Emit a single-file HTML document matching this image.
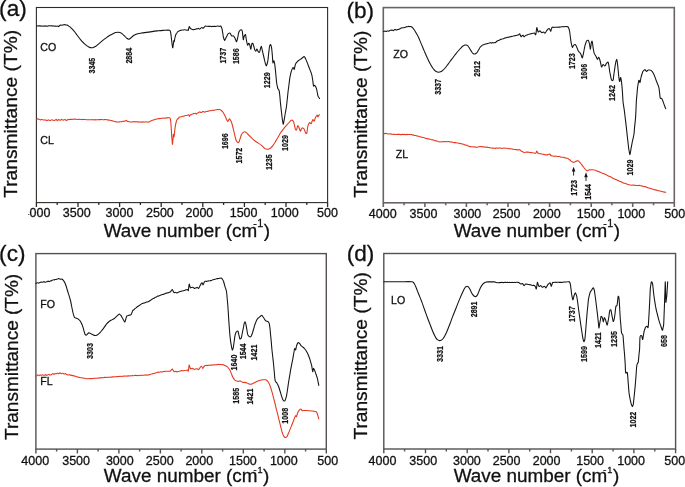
<!DOCTYPE html>
<html lang="en">
<head>
<meta charset="utf-8">
<title>FTIR spectra</title>
<style>
html,body{margin:0;padding:0;background:#fff;}
body{width:685px;height:487px;overflow:hidden;}
svg{display:block;}
text{font-family:"Liberation Sans",Arial,Helvetica,sans-serif;fill:#111;stroke:#111;stroke-width:0.3px;}
.tag{font-size:22.6px;}
.ax{font-size:18.9px;}
.ay{font-size:19.1px;}
.sup{font-size:10.8px;}
.sup2{font-size:9.2px;}
.tk{font-size:12.5px;text-anchor:middle;}
.nm{font-size:10.6px;}
.pk{font-size:8.8px;font-weight:bold;stroke:#111;stroke-width:0.22px;}
.cv{fill:none;stroke-width:1.08;stroke-linejoin:round;stroke-linecap:round;}
</style>
</head>
<body>
<svg width="685" height="487" viewBox="0 0 685 487">
<rect x="0" y="0" width="685" height="487" fill="#ffffff"/>
<defs><filter id="gs" x="0" y="0" width="685" height="487" filterUnits="userSpaceOnUse" color-interpolation-filters="sRGB"><feGaussianBlur stdDeviation="0.32"/><feColorMatrix type="saturate" values="0"/></filter></defs>
<g>
<rect x="36.4" y="7.5" width="291.2" height="195.1" fill="none" stroke="#2e2a28" stroke-width="1.1"/>
<path d="M36.4 202.6v4.3M57.2 202.6v2.4M78.0 202.6v4.3M98.8 202.6v2.4M119.6 202.6v4.3M140.4 202.6v2.4M161.2 202.6v4.3M182.0 202.6v2.4M202.8 202.6v4.3M223.6 202.6v2.4M244.4 202.6v4.3M265.2 202.6v2.4M286.0 202.6v4.3M306.8 202.6v2.4M327.6 202.6v4.3" stroke="#2e2a28" stroke-width="1.3" fill="none"/>
</g>
<g>
<rect x="383.3" y="7.6" width="291.0" height="195.2" fill="none" stroke="#696463" stroke-width="1.6"/>
<path d="M383.3 202.8v4.3M404.1 202.8v2.4M424.9 202.8v4.3M445.7 202.8v2.4M466.4 202.8v4.3M487.2 202.8v2.4M508.0 202.8v4.3M528.8 202.8v2.4M549.6 202.8v4.3M570.4 202.8v2.4M591.2 202.8v4.3M611.9 202.8v2.4M632.7 202.8v4.3M653.5 202.8v2.4M674.3 202.8v4.3" stroke="#696463" stroke-width="1.6" fill="none"/>
</g>
<g>
<rect x="35.9" y="253.6" width="290.4" height="195.5" fill="none" stroke="#565150" stroke-width="1.4"/>
<path d="M35.9 449.1v4.3M56.6 449.1v2.4M77.4 449.1v4.3M98.1 449.1v2.4M118.9 449.1v4.3M139.6 449.1v2.4M160.4 449.1v4.3M181.1 449.1v2.4M201.8 449.1v4.3M222.6 449.1v2.4M243.3 449.1v4.3M264.1 449.1v2.4M284.8 449.1v4.3M305.6 449.1v2.4M326.3 449.1v4.3" stroke="#565150" stroke-width="1.4" fill="none"/>
</g>
<g>
<rect x="383.8" y="253.5" width="291.8" height="195.5" fill="none" stroke="#565150" stroke-width="1.4"/>
<path d="M383.8 449.0v4.3M404.6 449.0v2.4M425.5 449.0v4.3M446.3 449.0v2.4M467.2 449.0v4.3M488.0 449.0v2.4M508.9 449.0v4.3M529.7 449.0v2.4M550.5 449.0v4.3M571.4 449.0v2.4M592.2 449.0v4.3M613.1 449.0v2.4M633.9 449.0v4.3M654.8 449.0v2.4M675.6 449.0v4.3" stroke="#565150" stroke-width="1.4" fill="none"/>
</g>
<path class="cv" stroke="#141414" d="M36.8 25.8C37.0 25.8 37.4 25.9 37.7 26.0C38.0 26.0 38.2 25.9 38.5 25.9C38.8 25.9 39.1 25.9 39.4 25.9C39.7 25.9 40.0 25.8 40.3 25.8C40.6 25.9 40.8 26.1 41.1 26.1C41.4 26.2 41.7 26.0 42.0 26.0C42.3 26.0 42.5 26.2 42.8 26.2C43.1 26.2 43.3 26.1 43.6 26.1C43.9 26.0 44.1 26.1 44.4 26.1C44.7 26.1 44.9 26.2 45.2 26.1C45.5 26.1 45.7 25.9 46.0 25.9C46.3 25.9 46.5 26.2 46.8 26.2C47.1 26.3 47.3 26.3 47.6 26.2C47.9 26.1 48.2 25.8 48.5 25.7C48.8 25.6 49.0 25.8 49.2 25.8C49.5 25.8 49.7 25.7 50.0 25.7C50.3 25.8 50.5 26.0 50.8 26.0C51.0 26.1 51.2 25.8 51.5 25.8C51.8 25.8 52.0 25.9 52.2 25.9C52.5 25.9 52.7 26.0 53.0 26.0C53.3 26.0 53.5 25.8 53.8 25.9C54.1 25.9 54.4 26.2 54.7 26.3C55.0 26.3 55.2 26.1 55.5 26.1C55.8 26.1 56.0 26.2 56.3 26.2C56.6 26.2 56.9 26.2 57.2 26.2C57.5 26.2 57.7 25.9 58.0 26.0C58.3 26.1 58.5 26.7 58.8 26.6C59.1 26.5 59.3 25.9 59.6 25.6C59.9 25.3 60.1 25.2 60.4 25.1C60.7 25.1 60.9 25.3 61.2 25.3C61.5 25.2 61.7 25.0 62.0 25.0C62.3 25.0 62.6 25.1 63.0 25.1C63.4 25.0 63.7 24.8 64.0 24.7C64.3 24.6 64.5 24.6 64.8 24.6C65.1 24.7 65.4 25.0 65.7 25.0C66.0 25.1 66.2 25.0 66.5 25.0C66.8 25.0 67.1 25.1 67.5 25.2C67.8 25.3 67.8 25.3 68.4 25.8C69.0 26.3 70.0 26.9 71.0 27.8C72.0 28.7 72.9 29.6 73.9 30.9C75.0 32.2 75.8 33.5 77.0 35.0C78.2 36.5 79.4 38.3 80.5 39.7C81.6 41.1 82.5 41.9 83.5 42.8C84.5 43.7 85.1 44.4 86.0 45.1C86.9 45.8 87.8 46.4 88.8 46.9C89.8 47.4 90.6 47.7 91.5 47.8C92.4 47.9 92.9 47.6 93.7 47.3C94.5 47.0 95.0 46.8 95.9 46.2C96.8 45.6 97.8 44.6 99.0 43.6C100.2 42.6 101.3 41.7 102.5 40.7C103.7 39.7 104.6 39.0 105.8 38.1C107.0 37.2 107.9 36.4 109.1 35.7C110.3 35.0 111.3 34.4 112.5 33.9C113.7 33.4 114.7 32.9 115.7 32.6C116.7 32.3 117.2 32.2 118.0 32.2C118.8 32.2 119.3 32.2 120.0 32.4C120.7 32.6 121.2 33.0 122.0 33.6C122.8 34.2 123.6 35.1 124.4 35.9C125.2 36.7 126.0 37.7 126.8 38.3C127.6 38.9 128.2 39.2 128.8 39.2C129.4 39.2 129.7 38.8 130.3 38.4C130.9 38.0 131.4 37.4 132.1 36.8C132.8 36.2 133.5 35.5 134.5 35.0C135.5 34.5 136.3 34.1 137.6 33.7C138.9 33.3 140.5 33.1 142.0 32.9C143.5 32.7 144.7 32.6 146.4 32.4C148.2 32.2 150.1 31.9 152.0 31.6C153.9 31.3 155.5 31.1 157.4 30.9C159.3 30.7 160.9 30.5 163.0 30.4C165.1 30.3 168.2 30.0 169.5 30.2C170.4 30.4 170.1 30.7 170.4 31.5C170.7 32.3 170.8 33.4 171.0 35.0C171.2 36.6 171.5 38.9 171.7 40.7C171.9 42.5 172.1 44.3 172.3 45.5C172.5 46.7 172.6 48.0 172.8 47.8C173.0 47.6 173.1 45.7 173.3 44.5C173.5 43.3 173.6 41.2 173.8 40.7C174.0 40.2 174.1 42.1 174.3 41.5C174.5 40.9 174.7 38.8 175.0 37.5C175.3 36.2 175.7 34.9 176.0 34.2C176.3 33.5 176.5 33.7 176.8 33.3C177.0 32.9 177.2 32.4 177.5 32.0C177.8 31.6 178.0 31.5 178.3 31.3C178.6 31.1 178.9 31.0 179.2 30.9C179.5 30.7 179.7 30.5 180.0 30.4C180.3 30.3 180.6 30.4 180.9 30.3C181.2 30.3 181.5 30.1 181.8 30.1C182.1 30.0 182.3 30.0 182.6 30.0C182.9 30.0 183.2 30.0 183.5 30.0C183.8 29.9 184.1 29.8 184.4 29.8C184.7 29.8 184.9 29.6 185.2 29.7C185.5 29.7 185.7 29.9 186.0 30.0C186.2 30.1 186.5 30.3 186.7 30.3C187.0 30.3 187.2 30.0 187.5 30.0C187.8 30.0 188.0 30.8 188.3 30.2C188.6 29.6 188.8 27.0 189.2 26.7C189.6 26.4 190.1 28.3 190.5 28.7C190.9 29.1 191.0 28.8 191.3 28.9C191.6 29.0 191.9 29.3 192.2 29.4C192.5 29.6 192.7 29.6 193.0 29.6C193.3 29.6 193.5 29.7 193.8 29.7C194.1 29.7 194.3 29.5 194.6 29.5C194.9 29.4 195.1 29.4 195.4 29.3C195.7 29.2 195.9 28.9 196.2 28.9C196.4 28.8 196.7 28.9 196.9 28.8C197.2 28.8 197.5 28.9 197.7 28.8C198.0 28.7 198.2 28.3 198.5 28.4C198.8 28.5 199.0 29.0 199.3 29.1C199.6 29.2 199.9 28.9 200.2 28.7C200.5 28.5 200.8 28.1 201.1 27.9C201.4 27.7 201.7 27.5 202.0 27.6C202.3 27.7 202.7 28.3 203.0 28.3C203.3 28.3 203.5 27.7 203.8 27.5C204.0 27.3 204.3 27.3 204.5 27.0C204.8 26.7 205.0 26.1 205.3 26.0C205.6 25.9 205.9 26.3 206.2 26.3C206.5 26.3 206.8 26.2 207.2 26.2C207.5 26.2 207.8 26.2 208.1 26.2C208.4 26.3 208.7 26.4 209.0 26.4C209.3 26.4 209.5 26.4 209.8 26.4C210.1 26.4 210.3 26.2 210.6 26.2C210.8 26.3 211.1 26.6 211.3 26.7C211.6 26.7 211.8 26.4 212.1 26.4C212.4 26.3 212.6 26.5 212.9 26.5C213.2 26.5 213.4 26.4 213.7 26.4C214.0 26.3 214.3 26.4 214.5 26.4C214.8 26.4 215.1 26.4 215.4 26.4C215.6 26.3 215.9 26.3 216.2 26.3C216.5 26.2 216.7 26.2 217.0 26.2C217.3 26.2 217.6 26.0 217.9 26.0C218.2 26.1 218.5 26.3 218.8 26.3C219.1 26.4 219.4 26.3 219.7 26.3C220.0 26.2 220.3 25.8 220.6 26.0C220.9 26.2 221.2 26.5 221.5 27.2C221.8 27.9 222.0 28.6 222.2 29.8C222.4 31.0 222.7 32.7 222.9 34.0C223.1 35.3 223.2 36.4 223.5 37.5C223.8 38.6 224.3 40.0 224.6 40.3C224.9 40.6 225.0 39.8 225.3 39.3C225.6 38.8 225.8 38.2 226.1 37.5C226.4 36.8 226.8 36.1 227.2 35.4C227.6 34.7 227.8 34.1 228.3 33.7C228.8 33.3 229.5 32.7 230.1 33.1C230.7 33.5 231.0 35.4 231.6 35.9C232.2 36.4 232.8 35.5 233.4 35.9C234.0 36.3 234.5 37.3 234.9 38.1C235.3 38.9 235.5 39.6 235.8 40.2C236.1 40.8 236.2 41.7 236.4 41.8C236.6 41.9 236.8 41.1 237.0 40.5C237.2 39.9 237.3 39.6 237.5 38.6C237.7 37.6 238.0 36.2 238.2 35.0C238.4 33.8 238.6 32.8 238.9 32.0C239.2 31.2 239.6 30.8 240.0 30.4C240.4 30.0 240.7 29.7 241.1 29.8C241.5 29.9 241.9 29.9 242.2 30.9C242.5 31.9 242.6 34.0 242.8 35.5C243.0 37.0 243.1 39.4 243.3 39.7C243.5 40.0 243.7 37.9 243.9 37.2C244.1 36.5 244.1 36.4 244.4 35.9C244.7 35.4 245.2 34.3 245.5 34.6C245.8 34.9 245.8 36.4 246.0 37.5C246.2 38.6 246.2 39.4 246.5 40.7C246.8 42.0 247.2 44.6 247.6 45.1C248.0 45.6 248.3 43.4 248.7 43.4C249.1 43.4 249.5 44.1 249.8 45.1C250.2 46.1 250.4 48.9 250.7 49.1C251.0 49.3 251.2 47.0 251.4 46.0C251.6 45.0 251.7 43.8 252.0 43.4C252.3 43.0 252.8 43.4 253.1 44.0C253.4 44.6 253.7 46.0 254.0 47.0C254.3 48.0 254.4 48.7 254.7 49.5C255.0 50.3 255.4 51.4 255.8 51.3C256.2 51.2 256.5 49.0 256.9 49.1C257.3 49.2 257.7 51.2 258.2 51.7C258.7 52.2 259.1 52.7 259.5 52.2C259.9 51.7 260.1 50.0 260.4 49.0C260.7 48.0 261.0 46.2 261.3 46.2C261.6 46.2 261.8 48.0 262.0 49.0C262.2 50.0 262.3 50.5 262.6 51.7C262.9 52.9 263.2 54.5 263.6 56.0C264.0 57.5 264.3 59.1 264.6 60.5C264.9 61.9 265.2 62.8 265.5 63.8C265.8 64.8 266.0 66.0 266.3 66.0C266.6 66.0 266.8 65.0 267.1 64.0C267.4 63.0 267.6 62.2 267.9 60.5C268.2 58.8 268.3 56.3 268.6 54.0C268.9 51.7 269.2 48.8 269.4 47.3C269.6 45.8 269.8 45.8 270.0 45.3C270.2 44.8 270.5 44.5 270.7 44.7C270.9 44.9 271.1 45.7 271.3 46.5C271.5 47.3 271.6 47.8 271.8 49.5C272.0 51.2 272.2 53.7 272.4 56.0C272.6 58.3 272.7 61.8 272.9 62.7C273.1 63.6 273.3 61.5 273.5 61.2C273.7 60.9 273.8 60.6 274.0 61.0C274.2 61.4 274.4 62.4 274.6 63.5C274.8 64.6 274.9 65.1 275.1 67.1C275.3 69.1 275.6 72.3 275.9 75.0C276.2 77.7 276.3 80.2 276.6 82.5C276.9 84.8 277.4 86.8 277.7 88.0C278.0 89.2 278.2 88.9 278.5 89.5C278.8 90.1 279.1 90.1 279.3 91.3C279.5 92.5 279.7 94.2 279.9 96.5C280.1 98.8 280.3 101.8 280.6 104.4C280.9 107.0 281.1 109.2 281.4 111.5C281.7 113.8 281.9 115.8 282.1 117.5C282.3 119.2 282.5 120.3 282.7 121.5C282.9 122.7 283.0 124.1 283.2 124.2C283.4 124.3 283.6 122.9 283.8 121.8C284.0 120.7 284.2 119.6 284.5 118.0C284.8 116.4 285.0 114.5 285.4 112.5C285.8 110.5 286.2 108.7 286.5 106.3C286.8 103.9 287.0 101.6 287.3 99.0C287.6 96.4 287.8 93.8 288.1 91.3C288.4 88.8 288.7 86.8 289.0 84.5C289.3 82.2 289.5 80.0 289.8 78.1C290.1 76.2 290.4 75.1 290.7 73.8C291.0 72.5 291.2 71.5 291.6 70.4C292.0 69.3 292.6 67.7 293.1 67.5C293.6 67.3 293.9 69.6 294.2 69.3C294.5 69.0 294.7 67.0 295.0 66.0C295.3 65.0 295.3 64.5 295.7 63.8C296.1 63.1 296.7 62.4 297.2 61.8C297.7 61.2 297.8 61.1 298.6 60.5C299.4 59.9 301.1 58.9 301.9 58.3C302.7 57.7 302.6 57.6 303.0 57.3C303.4 57.0 303.8 56.5 304.1 56.6C304.5 56.7 304.7 57.1 305.0 57.6C305.3 58.1 305.5 58.5 305.9 59.4C306.3 60.3 306.7 61.4 307.2 62.6C307.7 63.8 308.0 64.6 308.5 66.0C309.0 67.4 309.6 68.9 310.2 70.4C310.8 71.9 311.4 73.1 311.8 74.8C312.2 76.5 312.4 78.1 312.7 80.0C313.0 81.9 313.2 84.9 313.5 85.8C313.8 86.7 314.0 85.2 314.3 85.2C314.6 85.2 314.7 85.1 315.1 85.8C315.5 86.5 316.1 87.4 316.6 89.1C317.1 90.8 317.5 94.3 317.9 95.7C318.3 97.1 318.4 96.8 318.7 97.3C319.0 97.8 319.4 98.3 319.5 98.5"/>
<path class="cv" stroke="#e5371f" d="M36.8 119.2C37.0 119.1 37.4 118.9 37.7 118.9C38.0 118.9 38.2 119.1 38.5 119.2C38.8 119.3 39.1 119.1 39.4 119.3C39.7 119.4 40.0 119.8 40.3 119.9C40.6 119.9 40.8 119.6 41.1 119.6C41.4 119.5 41.7 119.6 42.0 119.6C42.3 119.6 42.5 119.7 42.8 119.8C43.1 119.8 43.3 119.8 43.6 119.9C43.9 119.9 44.1 119.9 44.4 120.0C44.7 120.0 44.9 120.1 45.2 120.1C45.5 120.1 45.7 119.9 46.0 120.0C46.3 120.1 46.5 120.5 46.8 120.6C47.1 120.6 47.3 120.4 47.6 120.3C47.9 120.2 48.2 119.7 48.5 119.8C48.8 119.9 49.1 120.5 49.4 120.6C49.7 120.7 50.0 120.8 50.3 120.6C50.6 120.5 50.8 120.0 51.1 119.9C51.4 119.7 51.7 119.8 52.0 119.9C52.3 120.0 52.5 120.1 52.8 120.2C53.0 120.3 53.2 120.1 53.5 120.2C53.8 120.3 54.0 120.5 54.2 120.5C54.5 120.5 54.6 120.4 55.0 120.2C55.4 120.0 56.0 119.3 56.4 119.4C56.8 119.5 57.0 120.6 57.4 120.6C57.8 120.6 58.2 119.6 58.5 119.5C58.8 119.4 59.0 119.7 59.2 119.8C59.5 119.9 59.7 120.1 60.0 120.2C60.3 120.3 60.5 120.3 60.8 120.1C61.0 120.0 61.2 119.4 61.5 119.3C61.8 119.2 62.0 119.6 62.2 119.7C62.5 119.8 62.7 120.1 63.0 120.1C63.3 120.1 63.7 119.9 64.0 119.8C64.4 119.7 64.7 119.4 65.1 119.5C65.5 119.6 65.9 120.3 66.2 120.4C66.5 120.5 66.8 120.1 67.1 120.0C67.4 119.9 67.1 119.7 68.0 119.6C69.2 119.5 72.7 119.3 73.9 119.2C74.7 119.1 74.4 119.1 74.7 119.1C75.0 119.1 75.2 119.1 75.5 119.1C75.8 119.1 76.0 119.2 76.3 119.3C76.6 119.3 76.9 119.4 77.1 119.5C77.4 119.5 77.7 119.4 78.0 119.4C78.2 119.3 78.5 119.2 78.8 119.3C79.0 119.3 79.3 119.4 79.6 119.4C79.9 119.5 80.1 119.6 80.4 119.5C80.7 119.5 80.9 119.3 81.2 119.3C81.5 119.3 81.7 119.5 82.0 119.5C82.3 119.5 82.5 119.6 82.8 119.6C83.1 119.6 83.3 119.4 83.6 119.4C83.9 119.4 84.1 119.5 84.4 119.5C84.7 119.6 84.9 119.5 85.2 119.5C85.4 119.5 85.7 119.7 86.0 119.7C86.2 119.7 86.5 119.7 86.8 119.7C87.0 119.7 87.3 119.8 87.5 119.8C87.8 119.8 88.1 119.7 88.3 119.7C88.6 119.7 88.8 119.7 89.1 119.7C89.4 119.7 89.6 119.7 89.9 119.7C90.2 119.7 90.4 119.7 90.7 119.7C91.0 119.8 91.2 119.8 91.5 119.8C91.8 119.8 92.0 119.6 92.2 119.6C92.5 119.6 92.7 119.7 93.0 119.8C93.3 119.8 93.5 119.7 93.8 119.7C94.0 119.8 94.2 119.9 94.5 119.9C94.8 119.9 95.0 119.6 95.2 119.6C95.5 119.6 95.7 119.8 96.0 119.9C96.3 119.9 96.5 119.7 96.8 119.7C97.0 119.7 97.2 119.7 97.5 119.7C97.8 119.7 98.0 119.7 98.2 119.7C98.5 119.6 98.7 119.6 99.0 119.6C99.3 119.6 99.5 119.6 99.8 119.6C100.1 119.6 100.3 119.6 100.6 119.6C100.9 119.6 101.1 119.5 101.4 119.5C101.6 119.5 101.9 119.5 102.2 119.6C102.4 119.6 102.7 119.6 103.0 119.7C103.2 119.7 103.5 119.7 103.7 119.7C104.0 119.7 104.3 119.7 104.5 119.6C104.8 119.6 105.0 119.5 105.3 119.5C105.6 119.5 105.8 119.7 106.1 119.7C106.4 119.8 106.6 119.6 106.9 119.6C107.2 119.6 107.5 119.8 107.8 119.9C108.0 120.0 108.3 120.1 108.6 120.1C108.9 120.1 109.2 120.1 109.5 120.1C109.7 120.2 110.0 120.2 110.3 120.3C110.6 120.3 110.9 120.5 111.2 120.6C111.4 120.7 111.7 120.6 112.0 120.7C112.3 120.8 112.6 120.9 112.9 121.0C113.2 121.1 113.4 121.2 113.8 121.3C114.1 121.3 114.3 121.3 114.6 121.4C114.9 121.5 115.2 121.7 115.5 121.8C115.8 121.9 116.0 121.9 116.3 121.9C116.6 122.0 116.8 122.0 117.1 122.0C117.4 122.0 117.6 122.0 117.9 122.0C118.2 122.0 118.4 122.0 118.7 121.9C119.0 121.9 119.3 121.9 119.5 121.9C119.8 121.8 120.1 121.8 120.4 121.8C120.6 121.8 120.9 121.8 121.2 121.7C121.5 121.7 121.7 121.6 122.0 121.5C122.3 121.4 122.6 121.3 122.9 121.3C123.2 121.3 123.4 121.4 123.8 121.4C124.1 121.3 124.3 121.2 124.6 121.1C124.9 121.0 125.2 121.0 125.5 120.9C125.8 120.8 126.0 120.2 126.3 120.3C126.6 120.4 127.1 121.2 127.5 121.4C127.9 121.6 128.1 121.4 128.4 121.4C128.7 121.5 128.9 121.6 129.2 121.7C129.6 121.8 129.8 121.9 130.1 122.0C130.4 122.0 130.7 122.0 131.0 122.0C131.3 122.0 131.5 121.9 131.8 121.9C132.1 121.9 132.4 122.1 132.7 122.0C133.0 122.0 133.2 121.8 133.5 121.7C133.8 121.7 134.0 121.6 134.3 121.6C134.6 121.7 134.9 121.9 135.2 121.9C135.5 121.9 135.7 121.7 136.0 121.7C136.3 121.7 136.5 121.8 136.8 121.9C137.1 121.9 137.3 121.8 137.6 121.8C137.9 121.8 138.1 121.9 138.4 121.9C138.7 122.0 138.9 122.1 139.2 122.1C139.5 122.1 139.7 122.0 140.0 122.0C140.3 122.0 140.5 121.9 140.8 121.9C141.1 122.0 141.3 122.1 141.6 122.1C141.8 122.1 142.1 122.1 142.3 122.1C142.6 122.1 142.9 121.9 143.1 121.9C143.4 121.9 143.6 122.0 143.9 122.1C144.2 122.1 144.4 122.0 144.7 122.0C145.0 122.0 145.2 122.1 145.5 122.0C145.7 122.0 146.0 121.8 146.3 121.8C146.5 121.8 146.8 121.9 147.0 122.0C147.3 122.0 147.5 122.2 147.8 122.2C148.1 122.2 148.3 122.1 148.6 122.0C148.9 121.9 149.2 121.9 149.6 121.7C149.9 121.5 150.2 121.1 150.5 121.0C150.9 120.8 151.2 120.8 151.5 120.7C151.8 120.6 152.1 120.4 152.4 120.3C152.7 120.1 153.0 120.0 153.3 119.9C153.7 119.8 154.0 119.8 154.3 119.7C154.6 119.6 154.9 119.3 155.2 119.2C155.5 119.1 155.7 119.3 156.0 119.2C156.3 119.2 156.6 119.1 156.8 119.0C157.1 119.0 157.4 118.8 157.7 118.8C158.0 118.7 158.2 118.6 158.5 118.6C158.8 118.6 159.0 118.7 159.3 118.7C159.6 118.6 159.9 118.4 160.2 118.4C160.4 118.4 160.7 118.5 161.0 118.5C161.3 118.5 161.5 118.4 161.8 118.3C162.1 118.2 162.4 118.1 162.7 118.1C163.0 118.0 163.3 118.0 163.7 118.1C164.0 118.1 164.3 118.2 164.6 118.2C164.9 118.2 165.2 118.1 165.5 118.0C165.8 117.9 166.0 117.9 166.3 117.9C166.6 117.9 166.8 117.9 167.1 117.9C167.4 117.8 167.6 117.9 167.9 117.9C168.2 117.8 168.4 117.7 168.7 117.7C169.0 117.7 169.2 117.6 169.5 117.8C169.8 118.0 170.1 117.9 170.3 118.6C170.5 119.3 170.6 120.2 170.8 122.0C171.0 123.8 171.1 126.3 171.3 129.0C171.5 131.7 171.6 135.2 171.8 137.5C172.0 139.8 172.1 140.8 172.2 142.0C172.3 143.2 172.4 144.8 172.5 144.4C172.6 144.1 172.7 141.7 172.9 140.0C173.1 138.3 173.2 135.3 173.4 134.5C173.6 133.7 173.7 135.1 173.8 135.5C173.9 135.9 173.9 137.5 174.1 136.7C174.3 135.9 174.5 132.9 174.7 131.0C174.9 129.1 175.1 127.3 175.4 125.7C175.7 124.1 175.9 123.1 176.2 122.0C176.5 120.9 176.8 120.3 177.2 119.6C177.6 118.9 178.1 118.6 178.5 118.2C178.9 117.8 179.0 117.5 179.2 117.3C179.5 117.1 179.7 117.1 180.0 117.0C180.3 116.9 180.5 116.7 180.8 116.7C181.0 116.7 181.2 116.8 181.5 116.8C181.8 116.8 182.0 116.6 182.2 116.5C182.5 116.4 182.7 116.3 183.0 116.2C183.3 116.2 183.5 116.3 183.8 116.2C184.0 116.1 184.2 115.9 184.5 115.8C184.8 115.7 185.1 115.5 185.4 115.5C185.7 115.4 185.9 115.5 186.2 115.5C186.5 115.4 186.8 115.3 187.1 115.3C187.4 115.2 187.6 115.1 187.9 115.1C188.2 115.0 188.5 114.6 188.8 114.8C189.1 115.0 189.3 116.2 189.5 116.3C189.7 116.4 189.9 115.5 190.2 115.2C190.5 114.9 190.8 114.9 191.1 114.7C191.5 114.5 191.7 114.3 192.1 114.1C192.4 114.0 192.7 114.1 193.0 114.0C193.3 113.9 193.5 113.7 193.8 113.6C194.1 113.5 194.4 113.5 194.7 113.5C195.0 113.4 195.2 113.2 195.5 113.3C195.8 113.4 196.0 114.0 196.3 114.0C196.6 114.0 196.9 113.4 197.2 113.2C197.5 112.9 197.7 112.8 198.1 112.7C198.4 112.5 198.6 112.4 198.9 112.3C199.2 112.1 199.4 111.9 199.8 111.9C200.2 111.9 200.6 112.4 201.0 112.5C201.4 112.6 201.5 112.4 201.8 112.3C202.1 112.1 202.4 111.7 202.7 111.6C203.0 111.5 203.2 111.4 203.5 111.5C203.8 111.6 204.0 112.0 204.3 112.1C204.6 112.2 204.9 112.0 205.2 111.9C205.5 111.8 205.7 111.7 206.0 111.6C206.3 111.5 206.6 111.2 206.9 111.2C207.2 111.2 207.4 111.5 207.7 111.4C208.0 111.4 208.3 111.1 208.6 111.0C208.9 110.9 209.2 110.8 209.5 110.7C209.8 110.7 210.1 110.8 210.4 110.8C210.7 110.8 210.9 110.7 211.2 110.6C211.5 110.5 211.8 110.2 212.1 110.2C212.4 110.2 212.7 110.4 213.0 110.4C213.3 110.4 213.6 110.4 213.9 110.3C214.2 110.3 214.4 110.2 214.7 110.1C215.0 110.0 215.3 109.7 215.6 109.7C215.9 109.6 216.1 109.9 216.4 109.8C216.7 109.8 217.0 109.5 217.3 109.5C217.6 109.5 217.9 109.7 218.2 109.7C218.4 109.7 218.7 109.5 219.0 109.5C219.3 109.5 219.5 109.4 219.8 109.5C220.1 109.5 220.2 109.6 220.6 109.9C221.0 110.2 221.7 110.7 222.3 111.4C222.9 112.1 223.4 112.8 223.9 113.7C224.4 114.6 224.8 115.5 225.3 116.5C225.8 117.5 226.1 118.7 226.6 119.6C227.1 120.5 227.5 121.3 227.9 121.4C228.3 121.5 228.4 120.5 228.7 120.0C229.0 119.5 229.1 118.7 229.4 118.7C229.7 118.7 230.0 119.3 230.4 120.0C230.8 120.7 231.2 121.4 231.6 122.5C232.0 123.6 232.3 125.0 232.7 126.5C233.1 128.0 233.4 129.6 233.8 131.2C234.2 132.8 234.5 134.3 234.9 135.8C235.3 137.3 235.6 138.9 236.0 140.0C236.4 141.1 236.7 141.4 237.1 141.9C237.5 142.4 237.9 142.7 238.2 142.7C238.5 142.7 238.7 142.3 239.0 141.8C239.3 141.3 239.4 140.8 239.7 140.0C240.0 139.2 240.3 138.2 240.6 137.2C240.9 136.2 241.1 135.3 241.5 134.5C241.9 133.7 242.4 133.1 243.0 132.6C243.6 132.1 244.2 131.7 244.8 131.7C245.4 131.7 245.8 132.2 246.4 132.7C247.0 133.2 247.4 133.8 248.1 134.5C248.8 135.2 249.5 135.9 250.3 136.7C251.1 137.5 251.7 138.2 252.5 138.9C253.3 139.6 253.9 140.1 254.7 140.7C255.5 141.3 256.1 141.7 256.9 142.2C257.7 142.7 258.2 143.1 259.0 143.6C259.8 144.1 260.6 144.6 261.3 145.1C262.0 145.6 262.4 146.1 263.0 146.7C263.6 147.3 264.0 148.0 264.6 148.4C265.2 148.8 265.6 148.9 266.2 149.1C266.8 149.3 267.3 149.4 267.9 149.3C268.5 149.2 268.9 149.1 269.5 148.8C270.1 148.5 270.5 148.2 271.1 147.7C271.7 147.2 272.2 146.5 272.8 145.7C273.4 144.9 273.8 144.2 274.4 143.3C275.0 142.4 275.4 141.6 276.0 140.6C276.6 139.6 276.8 139.3 277.7 137.8C278.6 136.3 279.8 134.0 281.0 132.3C282.2 130.6 283.1 129.3 284.3 127.9C285.5 126.5 286.5 125.4 287.6 124.2C288.7 123.0 289.8 121.6 290.5 120.9C291.2 120.2 291.2 120.3 291.6 120.2C292.0 120.1 292.2 120.1 292.5 120.3C292.8 120.5 293.0 120.8 293.2 121.2C293.4 121.6 293.6 121.7 293.8 122.5C294.0 123.3 294.3 124.9 294.6 126.0C294.9 127.1 295.0 128.3 295.3 129.0C295.6 129.7 296.1 130.3 296.4 130.1C296.7 129.9 296.9 128.8 297.1 128.0C297.3 127.2 297.5 126.0 297.7 125.7C297.9 125.4 298.1 126.0 298.3 126.3C298.5 126.6 298.8 126.9 299.0 127.5C299.2 128.1 299.5 128.9 299.7 129.5C299.9 130.1 300.1 131.2 300.4 131.2C300.7 131.2 300.9 130.1 301.2 129.5C301.5 128.9 301.8 128.1 302.1 127.9C302.4 127.7 302.8 128.0 303.1 128.2C303.5 128.4 303.8 128.5 304.1 129.0C304.4 129.5 304.6 130.3 304.9 131.0C305.2 131.7 305.3 132.4 305.6 132.8C305.9 133.2 306.4 133.9 306.7 133.4C307.0 132.9 307.1 131.3 307.3 130.0C307.5 128.7 307.7 126.8 308.0 125.7C308.3 124.6 308.5 124.4 308.8 123.8C309.1 123.2 309.3 122.6 309.6 122.5C309.9 122.4 310.1 123.1 310.4 123.3C310.7 123.5 311.0 123.9 311.3 123.6C311.6 123.2 311.8 122.0 312.1 121.3C312.4 120.6 312.6 119.7 312.9 119.6C313.2 119.5 313.3 120.4 313.6 120.6C313.9 120.8 314.2 121.2 314.4 120.9C314.6 120.6 314.8 119.5 315.0 118.8C315.2 118.1 315.4 117.5 315.7 117.0C316.0 116.5 316.2 116.1 316.5 115.8C316.8 115.5 317.1 115.0 317.3 115.2C317.5 115.4 317.7 116.9 317.9 117.0C318.1 117.1 318.3 116.0 318.6 115.6C318.9 115.2 319.3 114.9 319.5 114.8"/>
<path class="cv" stroke="#141414" d="M383.5 31.5C383.7 31.5 384.1 31.4 384.4 31.3C384.7 31.2 384.9 31.0 385.2 31.1C385.6 31.1 385.8 31.5 386.1 31.5C386.4 31.5 386.7 31.1 387.0 31.0C387.3 30.9 387.5 31.0 387.8 31.0C388.1 31.0 388.4 31.2 388.7 31.1C389.0 31.1 389.2 31.0 389.5 30.8C389.8 30.6 390.1 30.3 390.4 30.2C390.7 30.1 390.9 30.4 391.2 30.4C391.5 30.4 391.7 29.9 392.0 29.9C392.3 29.9 392.5 30.5 392.8 30.6C393.1 30.7 393.4 30.8 393.7 30.6C394.0 30.4 394.3 29.7 394.6 29.5C394.9 29.4 395.2 29.5 395.5 29.6C395.8 29.7 396.0 30.1 396.3 30.1C396.6 30.1 396.9 29.6 397.2 29.6C397.5 29.5 397.8 29.7 398.1 29.6C398.5 29.5 398.8 29.3 399.1 29.2C399.4 29.0 399.7 28.9 400.0 28.7C400.3 28.5 400.6 28.3 400.9 28.1C401.2 28.0 401.4 27.9 401.8 27.9C402.1 27.8 402.3 27.8 402.6 27.8C402.9 27.8 403.2 27.8 403.5 27.8C403.8 27.8 404.0 27.7 404.3 27.6C404.6 27.5 404.9 27.5 405.2 27.3C405.5 27.2 405.7 27.0 406.0 26.9C406.3 26.8 406.6 26.6 406.9 26.6C407.2 26.6 407.4 26.8 407.7 26.8C408.0 26.8 408.2 26.4 408.5 26.3C408.8 26.3 409.0 26.4 409.3 26.5C409.6 26.6 409.8 26.6 410.1 26.6C410.4 26.6 410.5 26.3 410.9 26.5C411.3 26.7 411.9 27.0 412.5 27.6C413.1 28.2 413.5 28.8 414.2 29.8C414.9 30.8 415.5 32.0 416.3 33.3C417.1 34.6 417.7 35.6 418.6 37.5C419.5 39.4 420.3 41.6 421.3 43.9C422.3 46.2 423.1 48.3 424.1 50.6C425.1 52.9 425.8 54.7 426.8 56.8C427.8 58.9 428.7 61.0 429.6 62.7C430.5 64.4 431.0 65.4 431.8 66.6C432.6 67.8 433.2 68.8 434.0 69.7C434.8 70.6 435.4 71.1 436.2 71.5C437.0 71.9 437.6 72.1 438.4 72.2C439.2 72.3 439.8 72.1 440.6 71.8C441.4 71.5 441.9 71.2 442.8 70.4C443.7 69.6 444.5 68.7 445.5 67.5C446.5 66.3 447.2 65.2 448.3 63.8C449.4 62.4 450.4 60.9 451.6 59.4C452.8 57.9 453.7 56.5 454.9 55.0C456.1 53.5 457.0 52.3 458.2 51.0C459.4 49.7 460.6 48.2 461.5 47.3C462.4 46.4 462.6 46.3 463.2 45.9C463.8 45.5 464.3 45.3 464.8 45.1C465.3 44.9 465.7 44.9 466.2 45.0C466.7 45.1 467.1 45.2 467.6 45.6C468.1 46.0 468.4 46.6 468.9 47.3C469.4 48.0 469.7 48.7 470.2 49.5C470.7 50.3 471.1 51.0 471.6 51.7C472.1 52.4 472.5 52.9 472.9 53.3C473.3 53.7 473.6 53.8 474.0 53.9C474.4 54.0 474.7 54.0 475.1 53.9C475.5 53.8 475.8 53.6 476.2 53.3C476.6 53.0 476.9 52.8 477.3 52.2C477.7 51.6 478.2 50.7 478.7 49.8C479.2 48.9 479.6 48.0 480.1 47.3C480.6 46.6 481.2 46.1 481.8 45.6C482.4 45.1 482.5 45.0 483.4 44.7C484.3 44.4 486.0 43.9 486.7 43.7C487.4 43.5 487.2 43.7 487.5 43.6C487.8 43.5 488.1 43.3 488.4 43.2C488.6 43.0 488.9 43.0 489.2 43.0C489.5 42.9 489.7 42.9 490.0 42.9C490.3 42.9 490.5 42.7 490.8 42.7C491.0 42.7 491.2 43.1 491.5 43.1C491.8 43.1 492.0 42.7 492.2 42.6C492.5 42.6 492.7 42.8 493.0 42.8C493.3 42.8 493.5 42.9 493.8 42.8C494.1 42.8 494.4 42.6 494.7 42.6C495.0 42.5 495.2 42.7 495.5 42.5C495.8 42.3 496.2 41.8 496.6 41.5C497.0 41.2 497.4 40.9 497.7 40.7C498.0 40.5 498.2 40.6 498.5 40.5C498.7 40.4 499.0 40.4 499.2 40.2C499.5 40.1 499.7 40.0 500.0 39.8C500.2 39.6 500.5 39.5 500.7 39.3C501.0 39.2 501.2 39.3 501.5 39.2C501.8 39.1 502.0 39.0 502.3 38.9C502.6 38.8 502.8 38.8 503.1 38.8C503.3 38.7 503.6 38.7 503.8 38.6C504.1 38.5 504.3 38.1 504.6 38.0C504.9 37.9 505.1 37.9 505.4 37.9C505.7 37.9 505.9 37.9 506.2 37.8C506.4 37.7 506.7 37.6 506.9 37.5C507.2 37.4 507.4 37.4 507.7 37.3C508.0 37.3 508.2 37.4 508.5 37.3C508.7 37.2 509.0 37.0 509.2 36.9C509.5 36.8 509.7 37.0 510.0 36.9C510.3 36.8 510.5 36.6 510.8 36.5C511.1 36.4 511.4 36.4 511.7 36.4C512.0 36.3 512.2 36.3 512.5 36.3C512.8 36.2 513.1 36.1 513.4 36.0C513.7 35.9 513.9 36.0 514.2 35.9C514.5 35.8 514.7 35.7 515.0 35.7C515.2 35.6 515.5 35.6 515.7 35.5C516.0 35.5 516.2 35.5 516.5 35.4C516.8 35.3 517.2 35.3 517.5 35.1C517.9 35.0 518.2 35.1 518.6 34.8C519.0 34.5 519.4 33.6 519.7 33.7C520.0 33.8 520.1 34.9 520.4 35.4C520.7 35.9 520.9 36.7 521.2 36.8C521.5 36.9 521.7 36.2 522.0 35.9C522.3 35.6 522.6 35.1 523.0 35.3C523.4 35.5 523.7 36.7 524.0 36.8C524.3 36.9 524.6 36.3 524.9 36.1C525.2 35.8 525.4 35.7 525.8 35.5C526.1 35.3 526.5 35.1 526.9 35.0C527.3 34.8 527.7 34.5 528.0 34.4C528.3 34.3 528.5 34.3 528.8 34.3C529.0 34.2 529.2 34.1 529.5 34.1C529.8 34.0 530.0 34.1 530.2 34.0C530.5 34.0 530.7 33.8 531.0 33.7C531.3 33.6 531.6 33.7 531.9 33.6C532.2 33.6 532.5 33.3 532.8 33.2C533.1 33.2 533.4 33.3 533.7 33.3C534.0 33.3 534.2 32.8 534.6 33.1C535.0 33.4 535.4 35.2 535.7 34.8C536.0 34.4 536.1 32.3 536.3 31.0C536.5 29.7 536.6 27.8 536.8 27.6C537.0 27.4 537.2 29.2 537.5 30.0C537.8 30.8 538.0 31.8 538.3 32.0C538.6 32.2 538.9 31.4 539.2 31.2C539.5 31.0 539.8 30.8 540.1 30.9C540.4 31.0 540.6 31.5 540.9 31.8C541.1 32.1 541.3 32.5 541.6 32.6C541.9 32.7 542.2 32.6 542.5 32.5C542.8 32.4 543.1 32.0 543.4 32.0C543.7 32.0 544.0 32.3 544.2 32.5C544.5 32.7 544.7 33.4 545.1 33.1C545.5 32.8 546.0 31.7 546.5 31.0C547.0 30.3 547.4 29.7 547.8 29.3C548.2 28.9 548.4 28.9 548.6 28.8C548.9 28.7 549.2 28.3 549.5 28.7C549.8 29.1 550.3 31.2 550.6 31.3C550.9 31.4 551.1 29.7 551.4 29.0C551.7 28.3 551.9 27.4 552.2 27.1C552.5 26.8 552.7 27.3 553.0 27.3C553.3 27.3 553.6 27.3 553.9 27.4C554.1 27.4 554.4 27.4 554.7 27.3C555.0 27.3 555.2 27.2 555.5 27.2C555.8 27.2 556.0 27.3 556.3 27.3C556.6 27.3 556.8 27.1 557.1 27.1C557.4 27.1 557.6 27.3 557.9 27.3C558.2 27.3 558.4 27.1 558.7 27.1C559.0 27.1 559.2 27.1 559.5 27.1C559.8 27.1 560.1 27.2 560.4 27.1C560.6 27.0 560.9 26.7 561.2 26.7C561.5 26.6 561.7 26.8 562.0 26.8C562.3 26.8 562.5 26.7 562.8 26.6C563.1 26.6 563.4 26.6 563.6 26.7C563.9 26.7 564.2 26.7 564.5 26.7C564.8 26.7 565.0 26.5 565.3 26.5C565.6 26.5 565.9 26.7 566.1 26.7C566.4 26.8 566.6 26.5 567.0 26.6C567.4 26.7 567.9 26.7 568.2 27.1C568.6 27.5 568.7 28.1 569.0 29.0C569.3 29.9 569.5 30.7 569.7 32.0C569.9 33.3 570.1 34.8 570.3 36.5C570.5 38.2 570.8 40.3 571.0 41.8C571.2 43.3 571.5 44.2 571.7 45.2C571.9 46.2 572.2 47.1 572.4 47.3C572.6 47.5 572.9 46.6 573.1 46.2C573.3 45.8 573.3 45.4 573.7 45.1C574.1 44.8 574.8 44.4 575.2 44.5C575.6 44.6 575.8 45.3 576.1 45.8C576.4 46.3 576.5 46.7 576.8 47.3C577.1 47.9 577.3 48.6 577.6 49.3C577.9 50.0 578.1 50.7 578.5 51.3C578.9 51.9 579.6 52.2 580.1 52.8C580.6 53.4 580.8 54.1 581.2 55.0C581.6 55.9 581.9 57.8 582.2 57.9C582.5 58.0 582.7 56.7 582.9 55.8C583.1 54.9 583.4 54.0 583.6 52.8C583.8 51.6 584.0 50.3 584.3 49.0C584.6 47.7 584.8 46.2 585.1 45.1C585.4 44.0 585.7 43.3 586.0 42.5C586.3 41.7 586.5 41.1 586.9 40.7C587.3 40.3 587.9 40.1 588.2 40.3C588.6 40.5 588.7 41.2 588.9 41.8C589.1 42.4 589.3 43.1 589.5 44.0C589.7 44.9 589.8 46.1 590.0 47.0C590.2 47.9 590.2 49.3 590.4 49.1C590.6 48.9 590.7 47.1 590.9 46.0C591.1 44.9 591.1 43.7 591.3 42.9C591.5 42.1 591.9 40.9 592.1 41.2C592.3 41.5 592.5 43.2 592.7 44.5C592.9 45.8 593.0 47.2 593.2 48.4C593.4 49.6 593.6 50.5 593.8 51.5C594.0 52.5 594.1 53.0 594.5 53.9C594.9 54.8 595.6 55.6 596.1 56.6C596.6 57.6 596.9 59.3 597.4 59.4C597.9 59.5 598.2 57.0 598.7 57.2C599.2 57.4 599.6 59.3 600.0 60.5C600.4 61.7 600.5 62.6 600.8 63.8C601.1 65.0 601.2 67.0 601.6 67.1C602.0 67.2 602.5 64.7 603.1 64.5C603.7 64.3 604.3 66.2 604.9 66.0C605.5 65.8 606.0 63.8 606.6 63.2C607.2 62.6 607.8 61.7 608.2 62.3C608.6 62.9 608.7 64.9 609.0 66.5C609.3 68.1 609.4 69.8 609.7 71.5C610.0 73.2 610.3 74.5 610.6 76.0C610.9 77.5 611.1 79.0 611.5 79.8C611.9 80.6 612.6 80.9 613.0 80.3C613.4 79.7 613.4 78.0 613.6 76.5C613.8 75.0 614.0 73.3 614.3 71.5C614.6 69.7 614.8 67.7 615.1 66.0C615.4 64.3 615.6 62.8 615.9 61.6C616.2 60.4 616.5 59.4 616.7 59.4C616.9 59.4 617.0 60.5 617.2 61.5C617.4 62.5 617.4 63.3 617.6 64.9C617.8 66.5 618.0 68.6 618.2 70.5C618.4 72.4 618.5 74.0 618.7 75.9C618.9 77.8 619.3 80.9 619.6 81.4C619.9 81.9 620.0 79.7 620.2 79.0C620.4 78.3 620.5 77.3 620.7 77.6C620.9 77.9 621.1 79.3 621.3 80.5C621.5 81.7 621.6 82.5 621.8 84.7C622.0 86.9 622.3 89.9 622.5 93.0C622.7 96.1 622.8 99.5 623.1 102.2C623.4 104.9 623.6 105.6 624.0 108.2C624.4 110.8 624.7 113.6 625.1 117.0C625.5 120.4 626.0 124.2 626.4 127.9C626.8 131.6 627.1 134.5 627.5 138.0C627.9 141.5 628.3 145.2 628.6 147.7C628.9 150.1 629.1 150.8 629.3 152.0C629.5 153.2 629.7 154.7 629.9 154.7C630.1 154.7 630.3 153.2 630.5 152.0C630.7 150.8 630.9 149.6 631.2 147.7C631.6 145.8 632.0 143.3 632.5 141.0C633.0 138.7 633.5 136.9 633.9 134.5C634.3 132.1 634.3 130.1 634.6 127.0C634.9 123.9 635.3 121.3 635.6 117.0C635.9 112.7 636.1 106.0 636.3 102.2C636.5 98.4 636.7 97.3 636.9 95.0C637.1 92.7 637.2 91.0 637.4 89.1C637.6 87.2 637.8 85.5 638.1 84.0C638.4 82.5 638.7 80.7 638.9 80.3C639.1 79.9 639.3 81.1 639.5 81.5C639.7 81.9 639.8 82.8 640.0 82.5C640.2 82.2 640.4 80.5 640.6 79.5C640.8 78.5 640.9 78.0 641.1 77.0C641.3 76.0 641.7 75.0 642.0 74.0C642.3 73.0 642.4 72.3 642.9 71.5C643.4 70.7 644.3 69.9 644.8 69.7C645.3 69.5 645.4 70.2 645.7 70.5C646.0 70.8 646.3 71.5 646.6 71.5C646.9 71.5 647.2 70.8 647.5 70.5C647.8 70.2 647.8 70.0 648.4 70.0C649.0 70.0 650.1 69.8 651.0 70.4C651.9 71.0 652.7 72.0 653.6 73.7C654.5 75.4 655.2 78.0 656.1 80.3C657.0 82.6 658.1 84.9 658.7 86.9C659.3 88.9 659.2 90.1 659.5 92.0C659.8 93.9 659.9 96.8 660.2 97.9C660.5 99.0 660.8 98.0 661.1 98.2C661.4 98.4 661.5 98.1 662.0 99.0C662.5 99.9 663.1 101.7 663.7 103.4C664.3 105.1 665.4 107.8 665.7 108.7"/>
<path class="cv" stroke="#e5371f" d="M383.5 133.4C383.6 133.4 384.0 133.6 384.3 133.6C384.6 133.6 384.8 133.6 385.1 133.6C385.3 133.5 385.6 133.4 385.9 133.4C386.1 133.4 386.4 133.5 386.6 133.5C386.9 133.6 387.2 133.6 387.4 133.7C387.7 133.7 387.9 134.0 388.2 134.0C388.5 134.1 388.7 133.9 389.0 133.9C389.3 133.9 389.5 134.0 389.8 133.9C390.1 133.9 390.4 133.8 390.6 133.8C390.9 133.9 391.2 134.1 391.5 134.1C391.8 134.2 392.0 134.2 392.3 134.2C392.6 134.3 392.8 134.3 393.1 134.4C393.4 134.4 393.7 134.4 394.0 134.4C394.2 134.4 394.5 134.2 394.8 134.2C395.1 134.2 395.3 134.5 395.6 134.5C395.9 134.5 396.1 134.5 396.4 134.5C396.7 134.4 397.0 134.4 397.2 134.4C397.5 134.4 397.8 134.3 398.1 134.4C398.4 134.4 398.6 134.4 398.9 134.4C399.2 134.4 399.4 134.3 399.7 134.4C400.0 134.4 400.2 134.6 400.5 134.6C400.8 134.6 401.1 134.6 401.4 134.6C401.6 134.5 401.9 134.4 402.2 134.4C402.5 134.4 402.7 134.4 403.0 134.4C403.3 134.4 403.5 134.6 403.8 134.6C404.1 134.6 404.3 134.4 404.6 134.4C404.9 134.4 405.1 134.6 405.4 134.6C405.6 134.6 405.9 134.4 406.2 134.4C406.4 134.4 406.7 134.7 406.9 134.7C407.2 134.7 407.5 134.4 407.7 134.4C408.0 134.4 408.3 134.5 408.5 134.5C408.8 134.5 409.0 134.5 409.3 134.5C409.6 134.5 409.8 134.4 410.1 134.4C410.4 134.4 410.6 134.5 410.9 134.5C411.2 134.5 411.5 134.5 411.8 134.6C412.0 134.7 412.3 135.0 412.6 135.1C412.9 135.1 413.2 134.8 413.4 134.8C413.7 134.9 414.0 135.3 414.3 135.4C414.6 135.5 414.9 135.4 415.1 135.5C415.4 135.5 415.7 135.5 416.0 135.6C416.3 135.7 416.5 135.9 416.8 135.9C417.1 136.0 417.4 135.9 417.7 136.0C418.0 136.0 418.2 136.2 418.5 136.3C418.8 136.4 419.1 136.3 419.4 136.4C419.7 136.5 419.9 136.8 420.2 136.9C420.5 137.0 420.8 136.9 421.1 136.9C421.4 137.0 421.6 137.1 421.9 137.2C422.2 137.3 422.5 137.4 422.8 137.5C423.0 137.5 423.3 137.5 423.6 137.6C423.9 137.6 424.2 137.6 424.4 137.7C424.7 137.9 425.0 138.2 425.3 138.3C425.6 138.4 425.9 138.4 426.1 138.4C426.4 138.5 426.7 138.5 427.0 138.6C427.3 138.7 427.5 138.8 427.8 138.9C428.1 138.9 428.4 138.9 428.7 138.9C429.0 138.9 429.2 139.0 429.5 139.1C429.8 139.1 430.1 139.1 430.4 139.2C430.7 139.4 430.9 139.6 431.2 139.7C431.5 139.8 431.8 139.5 432.1 139.6C432.4 139.6 432.6 139.9 432.9 140.0C433.2 140.1 433.4 140.1 433.7 140.1C433.9 140.2 434.2 140.3 434.4 140.4C434.7 140.5 435.0 140.6 435.2 140.7C435.5 140.8 435.7 140.9 436.0 140.9C436.3 140.9 436.6 140.8 436.9 140.9C437.2 141.0 437.4 141.3 437.8 141.4C438.1 141.6 438.3 141.7 438.6 141.7C438.9 141.8 439.2 141.8 439.5 141.8C439.8 141.8 440.0 142.0 440.2 142.0C440.5 141.9 440.7 141.7 441.0 141.7C441.3 141.7 441.5 141.9 441.8 141.9C442.0 141.8 442.2 141.5 442.5 141.5C442.8 141.4 443.0 141.6 443.2 141.7C443.5 141.7 443.7 141.6 444.0 141.6C444.3 141.6 444.6 141.8 444.9 141.8C445.2 141.8 445.4 141.7 445.7 141.6C446.0 141.6 446.3 141.5 446.6 141.5C446.9 141.5 447.1 141.7 447.4 141.8C447.7 141.8 448.0 141.6 448.3 141.6C448.6 141.6 448.8 141.5 449.1 141.6C449.4 141.7 449.7 141.9 450.0 142.0C450.3 142.1 450.5 142.0 450.8 142.0C451.1 142.0 451.4 141.9 451.6 141.9C451.9 142.0 452.2 142.2 452.5 142.3C452.8 142.3 453.0 142.4 453.3 142.5C453.6 142.5 453.9 142.6 454.2 142.6C454.5 142.6 454.7 142.6 455.0 142.6C455.3 142.6 455.5 142.6 455.8 142.6C456.1 142.7 456.3 142.7 456.6 142.8C456.9 142.8 457.2 142.8 457.4 142.9C457.7 143.0 458.0 143.2 458.2 143.2C458.5 143.3 458.8 143.1 459.1 143.2C459.3 143.3 459.6 143.6 459.9 143.7C460.2 143.7 460.4 143.4 460.7 143.4C461.0 143.5 461.2 143.7 461.5 143.8C461.8 143.9 462.0 143.8 462.2 143.9C462.5 144.0 462.7 144.2 463.0 144.2C463.3 144.3 463.5 144.2 463.8 144.3C464.0 144.4 464.2 144.7 464.5 144.8C464.8 144.9 465.0 145.0 465.2 145.0C465.5 145.1 465.7 145.1 466.0 145.1C466.3 145.1 466.5 145.2 466.8 145.3C467.1 145.4 467.4 145.7 467.7 145.8C468.0 145.9 468.2 145.8 468.5 145.9C468.8 146.1 469.1 146.4 469.4 146.5C469.7 146.6 469.9 146.6 470.2 146.6C470.5 146.6 470.7 146.7 471.0 146.7C471.3 146.7 471.6 146.7 471.9 146.7C472.1 146.7 472.4 146.7 472.7 146.7C473.0 146.8 473.2 147.0 473.5 147.0C473.8 147.0 474.0 147.0 474.3 146.9C474.6 146.9 474.9 146.9 475.1 146.9C475.4 147.0 475.7 147.3 476.0 147.3C476.3 147.4 476.5 147.3 476.8 147.3C477.1 147.3 477.5 147.1 477.9 147.0C478.3 147.0 478.6 146.9 479.0 146.8C479.4 146.7 479.7 146.6 480.1 146.5C480.5 146.5 480.9 146.6 481.2 146.6C481.5 146.6 481.7 146.7 482.0 146.7C482.2 146.8 482.4 146.9 482.7 146.9C483.0 147.0 483.2 146.9 483.5 146.9C483.7 146.9 484.0 146.8 484.2 146.8C484.5 146.8 484.7 147.1 485.0 147.1C485.2 147.2 485.5 147.3 485.7 147.3C486.0 147.3 486.2 147.1 486.5 147.1C486.8 147.1 487.0 147.1 487.2 147.1C487.5 147.2 487.7 147.3 488.0 147.4C488.3 147.5 488.5 147.5 488.8 147.5C489.1 147.6 489.3 147.6 489.6 147.6C489.9 147.7 490.1 147.7 490.4 147.8C490.7 147.8 490.9 147.9 491.2 148.0C491.5 148.0 491.7 148.1 492.0 148.1C492.3 148.1 492.5 148.1 492.8 148.1C493.1 148.1 493.3 148.0 493.6 148.1C493.9 148.1 494.1 148.1 494.4 148.2C494.7 148.3 494.9 148.4 495.2 148.4C495.5 148.3 495.7 148.1 496.0 148.0C496.3 148.0 496.5 148.1 496.8 148.1C497.1 148.2 497.3 148.2 497.6 148.2C497.9 148.2 498.1 148.1 498.4 148.1C498.7 148.0 498.9 148.0 499.2 148.0C499.5 148.0 499.7 148.1 500.0 148.1C500.3 148.1 500.5 148.0 500.8 148.1C501.0 148.1 501.3 148.3 501.5 148.3C501.8 148.4 502.0 148.4 502.3 148.3C502.6 148.3 502.8 148.3 503.1 148.2C503.4 148.1 503.6 148.0 503.9 148.0C504.1 148.0 504.4 148.0 504.6 148.0C504.9 148.1 505.1 148.2 505.4 148.2C505.7 148.2 505.9 148.2 506.2 148.2C506.5 148.2 506.8 148.2 507.0 148.2C507.3 148.2 507.6 148.3 507.9 148.4C508.2 148.5 508.4 148.8 508.7 148.8C509.0 148.8 509.2 148.5 509.5 148.5C509.8 148.5 510.1 148.8 510.4 148.9C510.6 148.9 510.9 148.7 511.2 148.8C511.5 148.8 511.7 148.9 512.0 149.0C512.3 149.1 512.5 149.1 512.8 149.2C513.1 149.2 513.4 149.2 513.6 149.2C513.9 149.3 514.2 149.5 514.5 149.5C514.8 149.6 515.0 149.5 515.3 149.5C515.6 149.6 515.8 149.7 516.1 149.7C516.4 149.7 516.7 149.6 517.0 149.6C517.2 149.7 517.5 149.8 517.8 149.9C518.1 149.9 518.3 150.0 518.6 149.9C518.9 149.8 519.2 149.4 519.5 149.5C519.8 149.6 520.1 150.1 520.5 150.4C520.9 150.7 521.2 151.1 521.5 151.3C521.8 151.5 522.0 151.5 522.3 151.7C522.6 151.8 522.9 151.8 523.2 151.9C523.5 152.1 523.7 152.4 524.0 152.5C524.3 152.6 524.6 152.3 525.0 152.3C525.4 152.2 525.6 152.2 526.0 152.2C526.4 152.2 526.6 152.1 527.0 152.1C527.4 152.1 527.7 152.1 528.0 152.1C528.3 152.1 528.5 152.1 528.8 152.2C529.1 152.3 529.3 152.4 529.6 152.5C529.9 152.6 530.1 152.6 530.4 152.6C530.7 152.6 530.9 152.5 531.2 152.5C531.5 152.6 531.7 152.7 532.0 152.7C532.3 152.7 532.6 152.7 532.9 152.7C533.2 152.8 533.5 152.9 533.9 153.0C534.2 153.1 534.5 153.2 534.8 153.3C535.1 153.3 535.4 153.4 535.7 153.2C536.0 153.0 536.1 152.6 536.3 152.2C536.5 151.8 536.6 151.0 536.8 151.0C537.0 151.0 537.2 151.9 537.4 152.3C537.6 152.7 537.7 153.0 537.9 153.2C538.1 153.4 538.4 153.2 538.7 153.3C539.0 153.4 539.3 153.6 539.5 153.7C539.8 153.7 540.1 153.7 540.4 153.7C540.6 153.8 540.9 153.8 541.2 153.9C541.5 154.0 541.7 154.0 542.0 154.1C542.3 154.2 542.6 154.3 542.9 154.3C543.2 154.4 543.5 154.4 543.8 154.4C544.1 154.5 544.4 154.5 544.7 154.6C545.0 154.7 545.3 155.0 545.6 155.0C545.9 155.0 546.1 154.8 546.4 154.8C546.7 154.8 546.9 154.9 547.2 154.9C547.5 154.8 547.7 154.6 548.0 154.5C548.3 154.4 548.6 154.3 549.0 154.2C549.4 154.2 549.6 154.0 550.0 154.3C550.4 154.6 550.8 155.6 551.1 155.8C551.4 156.0 551.6 155.6 551.9 155.7C552.2 155.7 552.4 155.9 552.7 156.0C552.9 156.1 553.2 156.1 553.4 156.2C553.7 156.2 553.9 156.2 554.2 156.2C554.5 156.2 554.7 156.1 555.0 156.1C555.3 156.1 555.6 156.3 555.9 156.3C556.2 156.3 556.5 156.1 556.9 156.2C557.2 156.2 557.5 156.5 557.8 156.6C558.1 156.6 558.4 156.5 558.7 156.5C559.0 156.5 559.3 156.5 559.6 156.6C559.9 156.6 560.1 156.8 560.4 156.9C560.7 157.0 561.0 157.1 561.3 157.2C561.6 157.2 561.8 157.2 562.1 157.2C562.4 157.2 562.7 157.3 563.0 157.3C563.3 157.3 563.5 157.2 563.8 157.3C564.0 157.4 564.2 157.7 564.5 157.8C564.8 157.9 565.0 157.8 565.2 157.9C565.5 157.9 565.7 157.9 566.0 158.0C566.3 158.1 566.5 158.3 566.8 158.3C567.0 158.4 567.2 158.2 567.5 158.3C567.8 158.4 568.1 158.7 568.4 158.9C568.6 159.1 568.9 159.3 569.2 159.5C569.5 159.7 569.7 159.8 570.0 160.0C570.3 160.3 570.4 160.6 570.8 160.9C571.2 161.2 571.7 161.6 572.2 161.9C572.7 162.2 573.1 162.4 573.5 162.4C573.9 162.4 574.3 162.1 574.7 161.9C575.1 161.7 575.5 161.5 575.9 161.3C576.3 161.1 576.7 161.0 577.2 160.9C577.7 160.8 578.1 160.7 578.5 160.9C578.9 161.1 579.1 161.6 579.4 161.9C579.6 162.2 579.9 162.4 580.2 162.7C580.5 163.0 580.7 163.3 581.0 163.7C581.3 164.1 581.5 164.4 581.8 164.8C582.1 165.2 582.4 165.5 582.6 165.9C582.9 166.2 583.2 166.6 583.5 167.0C583.8 167.4 584.0 167.7 584.3 168.1C584.6 168.4 584.8 168.6 585.1 169.0C585.4 169.4 585.8 169.9 586.2 170.2C586.6 170.5 586.9 170.8 587.3 170.8C587.7 170.8 588.0 170.4 588.4 170.2C588.8 170.0 589.2 169.8 589.5 169.7C589.8 169.6 590.0 169.9 590.3 169.9C590.6 169.9 590.9 169.8 591.1 169.8C591.4 169.7 591.7 169.9 592.0 169.9C592.3 169.9 592.5 169.7 592.8 169.7C593.1 169.7 593.3 169.7 593.6 169.8C593.8 169.8 594.1 170.0 594.3 170.1C594.6 170.2 594.8 170.2 595.1 170.2C595.3 170.3 595.6 170.3 595.8 170.4C596.1 170.5 596.3 170.6 596.6 170.8C596.9 171.0 597.1 171.2 597.4 171.3C597.7 171.4 597.9 171.3 598.2 171.4C598.4 171.4 598.7 171.4 598.9 171.5C599.2 171.7 599.4 172.1 599.7 172.2C600.0 172.3 600.2 172.2 600.5 172.3C600.8 172.4 601.0 172.4 601.2 172.6C601.5 172.7 601.7 173.0 602.0 173.1C602.3 173.3 602.5 173.4 602.8 173.5C603.0 173.6 603.2 173.6 603.5 173.7C603.8 173.7 604.0 173.6 604.2 173.7C604.5 173.8 604.7 174.0 605.0 174.2C605.3 174.4 605.6 174.6 605.9 174.7C606.2 174.8 606.4 174.8 606.7 175.0C607.0 175.1 607.3 175.5 607.6 175.6C607.9 175.8 608.1 175.8 608.4 176.0C608.7 176.1 609.0 176.2 609.3 176.3C609.6 176.4 609.8 176.5 610.1 176.6C610.4 176.7 610.7 176.9 611.0 177.1C611.2 177.2 611.5 177.4 611.8 177.6C612.1 177.7 612.3 177.8 612.6 178.0C612.9 178.2 613.1 178.3 613.4 178.5C613.7 178.6 614.0 178.7 614.2 178.9C614.5 179.0 614.8 179.2 615.1 179.3C615.4 179.4 615.6 179.5 615.9 179.6C616.2 179.7 616.4 179.6 616.7 179.8C617.0 179.9 617.3 180.2 617.5 180.4C617.8 180.5 618.1 180.7 618.4 180.8C618.6 180.9 618.9 181.0 619.2 181.1C619.5 181.2 619.7 181.4 620.0 181.5C620.3 181.6 620.5 181.6 620.8 181.7C621.0 181.8 621.3 181.9 621.5 182.0C621.8 182.1 622.0 182.1 622.3 182.2C622.6 182.4 622.8 182.7 623.1 182.9C623.3 183.0 623.6 183.1 623.8 183.2C624.1 183.2 624.3 183.2 624.6 183.3C624.9 183.4 625.2 183.3 625.6 183.4C625.9 183.6 626.2 184.0 626.5 184.1C626.9 184.3 627.2 184.3 627.5 184.3C627.8 184.3 628.1 184.3 628.4 184.4C628.7 184.5 628.9 184.6 629.2 184.8C629.5 184.9 629.8 185.0 630.1 185.0C630.4 185.0 630.6 185.0 630.9 185.0C631.2 185.1 631.4 185.3 631.7 185.3C632.0 185.3 632.3 185.1 632.5 185.1C632.8 185.0 633.1 185.1 633.4 185.1C633.7 185.1 633.9 185.2 634.2 185.2C634.5 185.3 634.7 185.3 635.0 185.3C635.3 185.3 635.5 185.4 635.8 185.4C636.1 185.5 636.4 185.5 636.7 185.5C637.0 185.5 637.2 185.5 637.5 185.5C637.8 185.6 638.0 185.6 638.3 185.6C638.6 185.5 638.9 185.4 639.2 185.4C639.5 185.4 639.7 185.4 640.0 185.5C640.3 185.6 640.5 185.7 640.8 185.8C641.1 185.9 641.4 186.0 641.6 186.0C641.9 186.1 642.2 186.1 642.5 186.1C642.8 186.1 643.0 186.1 643.3 186.2C643.6 186.3 643.8 186.6 644.1 186.6C644.4 186.7 644.7 186.5 645.0 186.5C645.2 186.6 645.5 186.7 645.8 186.8C646.1 186.9 646.3 187.1 646.6 187.2C646.9 187.3 647.2 187.5 647.5 187.6C647.7 187.7 648.0 187.8 648.3 187.9C648.6 188.0 648.9 188.0 649.1 188.0C649.4 188.1 649.7 188.2 650.0 188.3C650.3 188.4 650.5 188.3 650.8 188.4C651.1 188.5 651.3 188.8 651.6 188.9C651.9 189.0 652.1 188.9 652.4 189.0C652.7 189.1 652.9 189.3 653.2 189.4C653.5 189.5 653.7 189.5 654.0 189.6C654.3 189.6 654.6 189.8 654.9 189.9C655.1 189.9 655.4 189.8 655.7 189.8C656.0 189.9 656.2 190.1 656.5 190.1C656.8 190.2 657.1 190.2 657.3 190.3C657.6 190.4 657.9 190.6 658.2 190.7C658.5 190.7 658.7 190.7 659.0 190.8C659.3 190.9 659.5 191.0 659.8 191.0C660.1 191.1 660.4 191.3 660.7 191.3C661.0 191.3 661.2 191.2 661.5 191.2C661.8 191.3 662.1 191.4 662.4 191.6C662.6 191.7 662.9 191.8 663.2 191.9C663.5 191.9 663.7 192.0 664.0 192.1C664.3 192.1 664.6 192.1 664.9 192.1C665.2 192.2 665.6 192.3 665.7 192.3"/>
<path class="cv" stroke="#141414" d="M35.9 283.4C36.1 283.3 36.5 283.1 36.8 282.9C37.1 282.8 37.4 282.7 37.7 282.7C38.0 282.8 38.3 283.1 38.6 283.1C38.9 283.1 39.2 282.8 39.5 282.7C39.8 282.6 40.1 282.4 40.4 282.3C40.7 282.2 41.0 282.1 41.4 282.1C41.7 282.1 42.0 282.3 42.3 282.3C42.6 282.3 42.9 282.1 43.2 282.0C43.5 281.9 43.7 281.5 44.0 281.5C44.3 281.5 44.5 282.1 44.8 282.2C45.1 282.3 45.3 282.3 45.6 282.2C45.9 282.2 46.1 281.8 46.4 281.7C46.7 281.6 46.9 281.8 47.2 281.7C47.5 281.6 47.7 281.0 48.0 281.0C48.3 281.0 48.5 281.4 48.8 281.5C49.1 281.6 49.3 281.6 49.6 281.5C49.9 281.4 50.1 281.0 50.4 280.9C50.7 280.8 50.9 281.0 51.2 280.9C51.5 280.7 51.7 280.3 52.0 280.2C52.3 280.1 52.5 280.1 52.8 280.1C53.0 280.0 53.2 279.8 53.5 279.8C53.8 279.7 54.0 279.9 54.2 279.9C54.5 279.9 54.7 279.7 55.0 279.6C55.3 279.5 55.5 279.5 55.8 279.5C56.1 279.4 56.4 279.3 56.7 279.2C57.0 279.2 57.2 279.2 57.5 279.1C57.8 279.0 58.2 278.7 58.6 278.6C59.0 278.6 59.3 278.8 59.7 278.9C60.1 279.0 60.4 279.3 60.8 279.3C61.1 279.4 61.4 278.9 61.8 279.1C62.2 279.3 62.8 279.7 63.3 280.3C63.8 280.9 64.2 281.4 64.7 282.4C65.2 283.4 65.5 284.5 66.0 285.8C66.5 287.1 66.8 288.3 67.3 290.0C67.8 291.7 68.4 293.5 69.0 295.4C69.6 297.3 70.1 299.1 70.6 301.0C71.1 302.9 71.3 304.6 71.7 306.5C72.1 308.4 72.5 310.5 72.8 312.0C73.1 313.5 73.4 314.3 73.7 315.3C74.0 316.3 74.2 317.0 74.6 317.5C75.0 318.0 75.4 317.9 75.9 318.1C76.4 318.3 76.7 318.4 77.2 318.6C77.7 318.8 78.2 319.1 78.7 319.5C79.2 319.9 79.6 320.2 80.1 320.8C80.6 321.4 80.9 322.2 81.4 323.2C81.9 324.2 82.3 325.1 82.7 326.3C83.1 327.5 83.4 329.0 83.8 330.3C84.2 331.6 84.6 333.2 84.9 334.0C85.2 334.8 85.3 334.7 85.6 334.9C85.9 335.1 86.1 335.3 86.4 335.1C86.8 334.9 87.2 334.2 87.6 333.8C88.0 333.4 88.4 333.0 88.9 332.9C89.4 332.8 89.7 333.1 90.2 333.3C90.7 333.5 90.9 333.7 91.5 334.0C92.1 334.3 92.8 334.6 93.4 334.9C94.0 335.2 94.6 335.4 95.2 335.5C95.8 335.6 96.2 335.4 96.7 335.2C97.2 335.0 97.5 334.9 98.1 334.4C98.7 333.9 99.5 333.1 100.3 332.3C101.1 331.5 101.7 330.6 102.5 329.6C103.3 328.6 103.9 327.7 104.7 326.6C105.5 325.6 106.2 324.4 106.9 323.6C107.6 322.8 107.9 322.5 108.5 322.0C109.1 321.5 109.5 321.2 110.2 320.8C110.9 320.4 111.6 320.1 112.4 319.6C113.2 319.1 113.8 318.8 114.6 318.2C115.4 317.6 116.0 316.9 116.8 316.2C117.6 315.5 118.4 314.5 119.0 314.2C119.6 313.9 119.7 314.3 120.1 314.6C120.5 314.9 120.7 315.2 121.1 315.7C121.5 316.2 121.8 316.9 122.2 317.6C122.6 318.3 123.0 319.1 123.3 319.7C123.6 320.3 123.8 320.6 124.1 321.0C124.4 321.4 124.6 322.2 124.9 321.9C125.2 321.6 125.4 320.5 125.7 319.5C126.0 318.5 126.2 317.1 126.6 316.4C126.9 315.7 127.3 315.9 127.7 315.7C128.1 315.5 128.2 315.5 128.8 315.3C129.4 315.1 130.5 315.1 131.0 314.6C131.5 314.1 131.6 313.4 131.9 312.7C132.2 312.0 132.5 311.0 132.8 310.5C133.1 310.0 133.3 310.2 133.6 310.0C133.9 309.8 134.1 309.4 134.4 309.2C134.7 308.9 134.9 308.6 135.2 308.4C135.5 308.2 135.7 308.1 136.0 307.9C136.3 307.7 136.5 307.4 136.8 307.2C137.1 306.9 137.3 306.7 137.6 306.5C137.9 306.3 138.2 306.2 138.5 306.0C138.8 305.8 139.1 305.7 139.4 305.4C139.7 305.2 140.0 304.9 140.3 304.7C140.6 304.5 140.9 304.3 141.2 304.1C141.6 303.9 141.8 303.7 142.2 303.6C142.5 303.4 142.8 303.3 143.1 303.2C143.4 303.1 143.7 303.2 144.0 303.1C144.3 303.0 144.6 303.0 144.9 302.8C145.2 302.7 145.5 302.4 145.8 302.3C146.1 302.2 146.4 302.2 146.7 302.1C147.1 302.0 147.3 302.1 147.7 302.0C148.0 301.9 148.3 301.7 148.6 301.5C148.9 301.3 149.1 301.2 149.4 301.0C149.7 300.8 150.0 300.7 150.2 300.5C150.5 300.3 150.8 300.1 151.1 299.9C151.4 299.7 151.6 299.5 151.9 299.3C152.2 299.1 152.4 298.8 152.7 298.7C153.0 298.5 153.3 298.5 153.6 298.4C153.8 298.3 154.1 298.2 154.4 298.0C154.7 297.8 154.9 297.4 155.2 297.3C155.5 297.2 155.8 297.3 156.1 297.2C156.4 297.0 156.7 296.7 157.0 296.5C157.3 296.3 157.5 296.2 157.8 296.1C158.1 296.0 158.4 296.2 158.7 296.1C159.0 296.0 159.3 295.7 159.6 295.6C159.9 295.5 160.2 295.4 160.5 295.3C160.8 295.1 161.1 294.9 161.4 294.8C161.7 294.7 161.9 294.6 162.2 294.5C162.5 294.5 162.8 294.6 163.1 294.5C163.4 294.4 163.7 294.1 164.0 294.0C164.3 293.9 164.5 294.0 164.8 293.8C165.1 293.7 165.4 293.4 165.7 293.3C165.9 293.1 166.2 293.2 166.5 293.1C166.8 293.1 167.0 293.0 167.3 292.9C167.6 292.8 167.8 292.9 168.1 292.8C168.4 292.7 168.7 292.6 168.9 292.5C169.2 292.4 169.5 292.1 169.8 292.0C170.1 291.9 170.3 292.1 170.6 291.8C170.9 291.5 171.1 290.9 171.4 290.5C171.7 290.1 172.0 289.5 172.3 289.6C172.6 289.7 172.9 290.7 173.2 291.2C173.5 291.7 173.7 292.5 174.1 292.7C174.5 292.9 174.9 292.2 175.4 292.2C175.9 292.2 176.3 292.8 176.7 292.9C177.1 293.0 177.2 292.8 177.5 292.7C177.8 292.5 178.0 292.3 178.3 292.2C178.6 292.1 178.9 292.0 179.2 291.9C179.4 291.8 179.7 291.7 180.0 291.6C180.3 291.5 180.5 291.4 180.8 291.3C181.1 291.3 181.3 291.2 181.6 291.1C181.9 291.1 182.1 290.9 182.4 290.9C182.7 290.8 182.9 290.8 183.2 290.8C183.5 290.7 183.7 290.6 184.0 290.5C184.3 290.4 184.6 290.5 184.9 290.4C185.2 290.2 185.5 290.0 185.8 289.8C186.2 289.7 186.5 289.8 186.8 289.7C187.1 289.7 187.4 289.4 187.7 289.6C188.0 289.8 188.1 291.1 188.3 290.7C188.5 290.3 188.5 288.7 188.7 287.5C188.9 286.3 189.0 284.3 189.2 284.1C189.4 283.9 189.7 285.6 189.9 286.2C190.1 286.8 190.2 287.6 190.5 287.8C190.8 288.0 191.2 287.5 191.6 287.4C192.0 287.3 192.4 287.2 192.7 287.2C193.0 287.2 193.2 287.4 193.5 287.6C193.8 287.9 194.0 288.4 194.3 288.5C194.6 288.6 194.9 288.1 195.2 288.0C195.6 287.9 195.8 288.0 196.2 287.9C196.5 287.7 196.8 287.4 197.1 287.4C197.4 287.4 197.6 287.9 197.9 288.0C198.2 288.2 198.4 288.6 198.7 288.3C199.0 288.0 199.4 286.9 199.8 286.2C200.2 285.5 200.5 284.7 200.9 284.1C201.3 283.5 201.6 282.6 202.0 282.8C202.4 283.0 202.8 285.0 203.1 285.0C203.4 285.0 203.6 283.6 203.9 283.0C204.2 282.4 204.5 281.6 204.8 281.3C205.1 281.0 205.3 281.3 205.6 281.3C205.8 281.3 206.0 281.4 206.3 281.4C206.6 281.4 206.8 281.3 207.1 281.3C207.3 281.2 207.5 281.1 207.8 281.0C208.1 280.9 208.4 280.9 208.8 280.9C209.1 280.8 209.4 280.8 209.7 280.8C210.1 280.7 210.4 280.6 210.7 280.6C211.0 280.6 211.2 280.6 211.5 280.5C211.8 280.4 212.1 280.0 212.3 279.9C212.6 279.7 212.9 279.8 213.2 279.7C213.5 279.7 213.7 279.7 214.0 279.6C214.3 279.5 214.5 279.4 214.8 279.3C215.1 279.2 215.4 279.2 215.7 279.1C215.9 279.0 216.2 278.8 216.5 278.7C216.8 278.6 217.0 278.6 217.3 278.6C217.6 278.6 218.0 278.7 218.4 278.6C218.7 278.5 219.1 278.3 219.4 278.2C219.8 278.1 220.0 278.3 220.4 278.2C220.7 278.2 220.9 277.8 221.3 278.0C221.7 278.2 222.0 278.7 222.4 279.3C222.8 279.9 223.2 280.5 223.5 281.3C223.8 282.1 224.0 283.1 224.3 284.0C224.6 284.9 224.7 285.8 225.0 286.7C225.3 287.6 225.5 288.0 225.8 289.0C226.1 290.0 226.4 290.5 226.6 292.2C226.8 293.9 227.0 296.0 227.2 298.5C227.4 301.0 227.7 303.4 227.9 306.5C228.1 309.6 228.3 312.5 228.5 316.0C228.7 319.5 229.0 323.2 229.2 326.3C229.4 329.4 229.6 331.5 229.8 334.0C230.0 336.5 230.2 338.3 230.5 340.6C230.8 342.9 231.3 345.5 231.6 347.1C231.9 348.7 232.1 349.7 232.3 350.0C232.5 350.3 232.7 349.5 232.9 349.0C233.1 348.5 233.2 348.3 233.4 347.1C233.6 345.9 233.8 343.9 234.1 342.0C234.4 340.1 234.6 337.7 234.9 336.2C235.2 334.7 235.3 334.3 235.6 333.5C235.9 332.7 236.0 332.2 236.4 331.8C236.8 331.4 237.5 330.9 237.8 331.1C238.2 331.3 238.2 332.1 238.4 332.8C238.6 333.5 238.7 334.3 238.9 335.1C239.1 335.9 239.3 336.6 239.5 337.3C239.7 338.0 239.8 338.8 240.0 339.0C240.2 339.2 240.5 338.9 240.8 338.6C241.1 338.3 241.3 338.2 241.5 337.3C241.7 336.4 241.9 334.8 242.2 333.5C242.5 332.2 242.7 330.9 243.0 329.6C243.3 328.3 243.5 327.2 243.7 326.0C243.9 324.8 244.1 323.7 244.4 323.0C244.7 322.3 245.0 321.8 245.2 321.9C245.4 322.0 245.6 323.0 245.8 323.8C246.0 324.6 246.1 325.1 246.3 326.3C246.5 327.5 246.8 329.2 247.0 330.5C247.2 331.8 247.4 333.1 247.6 334.0C247.8 334.9 248.1 335.3 248.4 335.8C248.7 336.3 248.8 336.4 249.2 336.6C249.6 336.8 250.3 337.0 250.7 336.8C251.1 336.6 251.3 335.9 251.6 335.2C251.9 334.5 252.2 334.0 252.5 332.9C252.8 331.8 253.2 330.3 253.6 329.0C254.0 327.7 254.3 326.4 254.7 325.2C255.1 324.0 255.4 323.2 255.8 322.2C256.2 321.2 256.5 320.4 256.9 319.7C257.3 319.0 257.8 318.5 258.3 318.0C258.8 317.5 259.3 317.2 259.7 316.8C260.1 316.4 260.3 316.3 260.7 316.0C261.1 315.7 261.4 315.3 261.7 315.3C262.0 315.3 262.3 315.8 262.6 316.2C262.9 316.6 263.1 317.0 263.5 317.5C263.9 318.0 264.2 318.7 264.6 319.3C265.0 319.9 265.1 320.4 265.7 320.8C266.3 321.2 267.4 321.2 267.9 321.5C268.4 321.8 268.4 322.0 268.7 322.5C269.0 323.0 269.2 323.1 269.4 324.1C269.6 325.2 269.8 326.8 270.0 328.5C270.2 330.2 270.3 331.8 270.5 334.0C270.7 336.2 271.0 338.5 271.2 341.0C271.4 343.5 271.6 345.7 271.8 348.2C272.0 350.7 272.3 353.1 272.6 355.5C272.9 357.9 273.0 359.1 273.3 361.8C273.6 364.5 273.9 367.7 274.2 371.0C274.5 374.3 274.7 378.4 275.1 380.4C275.5 382.4 276.1 381.9 276.6 382.6C277.1 383.3 277.3 383.8 277.7 384.6C278.1 385.4 278.4 385.8 278.8 387.0C279.2 388.2 279.7 390.0 280.2 391.5C280.7 393.0 281.1 394.6 281.5 395.8C281.9 397.0 282.1 397.6 282.4 398.4C282.7 399.2 282.9 399.8 283.2 400.2C283.5 400.6 283.7 400.8 284.0 400.9C284.3 401.0 284.5 401.2 284.8 400.9C285.1 400.6 285.3 399.9 285.6 399.0C285.9 398.1 286.1 397.6 286.5 395.8C286.9 394.1 287.2 391.5 287.6 389.0C288.0 386.5 288.3 383.9 288.7 381.5C289.1 379.1 289.4 377.3 289.8 375.0C290.2 372.7 290.5 370.5 290.9 368.4C291.3 366.3 291.6 364.7 292.0 362.8C292.4 360.9 292.8 359.2 293.1 357.4C293.4 355.6 293.6 354.0 293.9 352.5C294.2 351.0 294.4 349.1 294.6 348.6C294.8 348.1 295.0 349.3 295.2 349.5C295.4 349.7 295.5 350.2 295.7 349.7C295.9 349.2 296.2 347.5 296.4 346.5C296.6 345.5 296.8 344.8 297.1 344.2C297.4 343.6 297.6 343.3 297.9 343.0C298.2 342.7 298.3 342.4 298.6 342.5C298.9 342.6 299.3 343.1 299.7 343.6C300.1 344.1 300.3 344.7 300.8 345.3C301.3 345.9 301.9 346.3 302.5 346.8C303.1 347.3 303.5 347.5 304.1 348.1C304.7 348.7 305.2 349.4 305.8 350.3C306.4 351.2 306.9 352.0 307.4 353.0C307.9 354.0 308.2 354.8 308.7 356.0C309.2 357.2 309.6 358.4 310.0 359.6C310.4 360.8 310.6 361.6 310.9 362.8C311.2 364.0 311.6 365.0 311.8 366.2C312.0 367.4 312.1 368.5 312.3 369.5C312.5 370.5 312.6 371.6 312.7 371.7C312.8 371.8 313.0 370.6 313.1 370.0C313.2 369.4 313.3 368.4 313.5 368.4C313.7 368.4 314.0 369.2 314.3 369.8C314.6 370.4 314.8 370.8 315.1 371.7C315.4 372.6 315.8 373.7 316.2 374.8C316.6 375.9 317.0 377.0 317.3 378.2C317.6 379.4 317.8 380.5 318.1 381.8C318.4 383.1 318.7 384.9 318.8 385.5"/>
<path class="cv" stroke="#e5371f" d="M35.9 375.6C36.0 375.6 36.5 376.0 36.8 375.9C37.0 375.8 37.3 375.2 37.6 375.0C37.9 374.9 38.2 374.9 38.5 375.0C38.7 375.1 39.0 375.7 39.3 375.7C39.6 375.7 39.9 375.0 40.1 374.9C40.4 374.9 40.7 375.3 41.0 375.3C41.3 375.3 41.5 375.1 41.8 375.0C42.1 374.9 42.3 374.8 42.6 374.9C42.9 374.9 43.1 375.3 43.4 375.3C43.7 375.4 43.9 375.1 44.2 375.1C44.5 375.0 44.7 375.2 45.0 375.1C45.3 375.0 45.5 374.4 45.8 374.5C46.1 374.6 46.3 375.3 46.6 375.4C46.9 375.5 47.2 375.1 47.6 374.9C48.0 374.7 48.6 374.2 49.0 374.2C49.4 374.2 49.5 374.9 49.8 375.0C50.1 375.1 50.5 375.0 50.9 374.9C51.3 374.8 51.6 374.5 52.0 374.3C52.4 374.1 52.6 373.6 53.0 373.6C53.4 373.6 53.6 374.4 54.0 374.4C54.4 374.4 54.8 373.6 55.2 373.5C55.6 373.4 56.0 373.9 56.4 373.8C56.8 373.7 57.1 373.0 57.5 373.0C57.9 373.0 58.3 373.8 58.7 373.8C59.1 373.8 59.5 372.9 60.0 372.9C60.5 372.9 60.9 373.5 61.3 373.6C61.7 373.7 61.8 373.8 62.1 373.7C62.4 373.7 62.5 373.2 62.9 373.2C63.3 373.2 63.7 373.9 64.2 374.0C64.7 374.1 65.1 373.5 65.5 373.5C65.9 373.5 66.0 374.0 66.2 374.2C66.5 374.4 66.7 374.4 67.0 374.5C67.3 374.6 67.5 375.0 67.8 375.0C68.1 375.1 68.4 374.8 68.7 374.8C69.0 374.7 68.7 374.7 69.5 374.9C70.4 375.1 73.1 375.7 74.0 375.9C74.9 376.1 74.6 376.2 74.9 376.3C75.2 376.3 75.4 376.2 75.7 376.3C76.0 376.4 76.3 376.7 76.6 376.8C76.9 376.9 77.1 376.9 77.4 376.9C77.7 377.0 78.0 377.0 78.3 377.1C78.6 377.2 78.8 377.4 79.1 377.4C79.4 377.5 79.7 377.4 80.0 377.5C80.3 377.5 80.5 377.7 80.8 377.8C81.1 377.8 81.4 377.7 81.7 377.7C82.0 377.8 82.2 377.9 82.5 378.0C82.8 378.1 83.0 378.0 83.3 378.0C83.5 378.1 83.8 378.2 84.0 378.3C84.3 378.3 84.5 378.1 84.8 378.2C85.1 378.3 85.3 378.5 85.6 378.6C85.8 378.7 86.1 378.7 86.3 378.7C86.6 378.7 86.8 378.7 87.1 378.7C87.4 378.7 87.7 378.8 88.0 378.8C88.3 378.8 88.6 378.6 88.9 378.6C89.2 378.5 89.4 378.6 89.7 378.6C90.0 378.6 90.3 378.7 90.6 378.7C90.9 378.7 91.2 378.6 91.5 378.6C91.8 378.6 92.1 378.6 92.4 378.5C92.7 378.5 93.0 378.5 93.3 378.4C93.6 378.4 93.8 378.3 94.1 378.2C94.4 378.2 94.7 378.2 95.0 378.2C95.3 378.2 95.6 378.2 95.9 378.2C96.2 378.2 96.4 378.3 96.7 378.3C96.9 378.3 97.2 378.3 97.5 378.3C97.7 378.2 98.0 377.9 98.2 377.9C98.5 377.9 98.7 378.1 99.0 378.1C99.3 378.1 99.5 377.9 99.8 377.8C100.1 377.8 100.3 377.7 100.6 377.7C100.8 377.8 101.1 377.9 101.3 377.9C101.6 377.8 101.8 377.6 102.1 377.6C102.4 377.6 102.6 377.8 102.9 377.8C103.2 377.8 103.4 377.8 103.7 377.7C103.9 377.6 104.2 377.5 104.4 377.4C104.7 377.4 105.0 377.4 105.2 377.4C105.5 377.4 105.7 377.4 106.0 377.4C106.3 377.4 106.5 377.5 106.8 377.5C107.1 377.5 107.3 377.3 107.6 377.3C107.9 377.2 108.1 377.1 108.4 377.1C108.7 377.1 108.9 377.3 109.2 377.3C109.5 377.3 109.7 377.2 110.0 377.2C110.2 377.2 110.5 377.1 110.8 377.1C111.0 377.1 111.3 377.2 111.6 377.1C111.8 377.1 112.1 377.0 112.3 376.9C112.6 376.9 112.9 376.9 113.1 376.9C113.4 376.8 113.7 376.7 113.9 376.7C114.2 376.7 114.4 376.7 114.7 376.7C115.0 376.7 115.2 376.7 115.5 376.7C115.8 376.7 116.0 376.7 116.3 376.7C116.6 376.7 116.8 376.6 117.1 376.6C117.4 376.6 117.6 376.5 117.9 376.5C118.2 376.5 118.4 376.6 118.7 376.6C118.9 376.6 119.1 376.4 119.4 376.4C119.7 376.3 119.9 376.2 120.2 376.2C120.4 376.3 120.7 376.4 120.9 376.5C121.2 376.5 121.4 376.3 121.7 376.3C121.9 376.3 122.2 376.4 122.4 376.3C122.7 376.3 122.9 376.3 123.2 376.2C123.4 376.2 123.7 376.1 123.9 376.1C124.2 376.1 124.4 376.1 124.7 376.1C125.0 376.0 125.2 376.0 125.5 376.0C125.7 376.0 125.9 376.1 126.2 376.1C126.5 376.1 126.7 376.2 127.0 376.2C127.2 376.1 127.5 376.0 127.7 375.9C128.0 375.9 128.2 375.8 128.5 375.8C128.7 375.9 129.0 375.9 129.2 376.0C129.5 376.0 129.7 376.0 130.0 376.0C130.2 375.9 130.5 375.9 130.7 375.8C131.0 375.8 131.2 375.7 131.5 375.7C131.8 375.6 132.0 375.6 132.2 375.6C132.5 375.6 132.7 375.7 133.0 375.7C133.3 375.7 133.5 375.8 133.8 375.7C134.1 375.7 134.3 375.5 134.6 375.5C134.8 375.4 135.1 375.4 135.3 375.4C135.6 375.4 135.8 375.4 136.1 375.4C136.4 375.4 136.6 375.6 136.9 375.6C137.2 375.6 137.4 375.5 137.7 375.5C138.0 375.5 138.2 375.6 138.5 375.6C138.7 375.6 139.0 375.6 139.2 375.5C139.5 375.5 139.7 375.3 140.0 375.3C140.3 375.2 140.5 375.1 140.8 375.2C141.1 375.2 141.3 375.4 141.6 375.4C141.9 375.5 142.1 375.3 142.4 375.2C142.6 375.2 142.9 375.3 143.1 375.3C143.4 375.3 143.6 375.3 143.9 375.3C144.2 375.2 144.4 375.1 144.7 375.0C145.0 375.0 145.2 374.9 145.5 374.9C145.8 374.9 146.0 375.1 146.3 375.1C146.5 375.1 146.8 375.1 147.0 375.1C147.3 375.1 147.5 375.0 147.8 375.0C148.1 374.9 148.3 374.9 148.6 374.9C148.9 374.9 149.2 374.8 149.5 374.7C149.8 374.6 150.1 374.4 150.4 374.3C150.7 374.1 150.9 374.0 151.2 374.0C151.5 373.9 151.8 374.0 152.1 374.0C152.4 373.9 152.7 373.7 153.0 373.6C153.3 373.5 153.6 373.5 153.9 373.5C154.2 373.4 154.5 373.3 154.8 373.2C155.1 373.1 155.3 373.0 155.6 372.9C155.9 372.8 156.2 372.8 156.5 372.7C156.8 372.6 157.1 372.4 157.4 372.3C157.7 372.2 157.9 372.1 158.2 372.1C158.5 372.1 158.8 372.2 159.1 372.2C159.3 372.2 159.6 372.1 159.9 372.1C160.2 372.0 160.4 371.8 160.7 371.8C161.0 371.8 161.2 371.9 161.5 371.9C161.8 372.0 162.1 372.0 162.3 371.9C162.6 371.8 162.9 371.7 163.2 371.6C163.5 371.5 163.7 371.6 164.0 371.6C164.3 371.6 164.5 371.4 164.8 371.3C165.1 371.3 165.4 371.3 165.7 371.3C165.9 371.3 166.2 371.3 166.5 371.3C166.8 371.3 167.0 371.2 167.3 371.2C167.6 371.2 167.8 371.2 168.1 371.2C168.4 371.2 168.7 371.3 168.9 371.3C169.2 371.3 169.5 371.3 169.8 371.2C170.1 371.2 170.3 371.2 170.6 371.0C170.9 370.8 171.1 370.2 171.4 369.8C171.7 369.4 172.0 368.9 172.3 369.0C172.6 369.1 172.9 369.9 173.2 370.4C173.5 370.9 173.8 371.5 174.1 371.7C174.4 371.9 174.6 371.6 174.8 371.6C175.1 371.5 175.3 371.4 175.6 371.4C175.9 371.4 176.1 371.4 176.4 371.5C176.7 371.6 176.9 371.9 177.2 371.9C177.5 371.9 177.8 371.7 178.1 371.6C178.5 371.5 178.7 371.3 179.1 371.2C179.4 371.1 179.7 371.0 180.0 371.0C180.3 371.0 180.5 371.1 180.8 371.0C181.1 370.9 181.3 370.7 181.6 370.6C181.9 370.6 182.1 370.7 182.4 370.8C182.7 370.8 182.9 370.7 183.2 370.7C183.5 370.6 183.7 370.5 184.0 370.5C184.3 370.5 184.6 370.6 184.9 370.5C185.2 370.4 185.5 370.2 185.8 370.2C186.2 370.1 186.5 370.3 186.8 370.3C187.1 370.3 187.4 369.9 187.7 370.1C188.0 370.3 188.1 371.6 188.3 371.2C188.5 370.8 188.5 369.1 188.7 368.0C188.9 366.9 189.0 365.2 189.2 365.1C189.4 365.0 189.7 366.6 189.9 367.2C190.1 367.8 190.2 368.6 190.5 368.8C190.8 369.0 191.2 368.6 191.6 368.5C192.0 368.4 192.4 368.3 192.7 368.4C193.0 368.5 193.2 368.8 193.5 369.0C193.8 369.2 194.0 369.5 194.3 369.5C194.6 369.5 194.9 369.2 195.2 369.1C195.6 369.0 195.8 368.9 196.2 368.9C196.5 368.8 196.8 368.7 197.1 368.8C197.4 368.9 197.6 369.1 197.9 369.2C198.2 369.3 198.3 369.8 198.7 369.5C199.1 369.2 199.6 368.2 200.1 367.6C200.6 367.0 201.0 366.1 201.5 366.2C202.0 366.3 202.4 368.3 202.8 368.4C203.2 368.5 203.5 367.3 203.8 366.8C204.2 366.3 204.5 365.9 204.8 365.7C205.1 365.5 205.3 365.6 205.6 365.5C205.8 365.5 206.0 365.4 206.3 365.4C206.6 365.4 206.8 365.5 207.1 365.5C207.3 365.5 207.5 365.4 207.8 365.4C208.1 365.4 208.4 365.3 208.8 365.3C209.1 365.2 209.4 365.3 209.7 365.2C210.1 365.2 210.4 365.1 210.7 365.1C211.0 365.1 211.2 365.1 211.5 365.1C211.8 365.1 212.1 365.1 212.3 365.0C212.6 365.0 212.9 365.0 213.2 364.9C213.5 364.9 213.7 364.8 214.0 364.8C214.3 364.8 214.5 364.9 214.8 364.9C215.1 364.8 215.4 364.7 215.7 364.7C215.9 364.7 216.2 364.8 216.5 364.7C216.8 364.7 217.0 364.6 217.3 364.6C217.6 364.6 217.8 364.5 218.1 364.5C218.4 364.4 218.6 364.4 218.9 364.4C219.1 364.5 219.4 364.7 219.7 364.7C219.9 364.7 220.2 364.5 220.4 364.5C220.7 364.5 221.0 364.5 221.2 364.5C221.5 364.6 221.7 364.8 222.0 364.8C222.3 364.8 222.5 364.6 222.8 364.6C223.1 364.6 223.5 364.9 223.9 365.0C224.3 365.2 224.6 365.2 225.0 365.4C225.4 365.6 225.7 365.9 226.1 366.1C226.5 366.4 226.9 366.4 227.2 366.6C227.5 366.8 227.7 367.0 227.9 367.3C228.2 367.6 228.3 367.7 228.7 368.3C229.1 368.9 229.6 369.7 230.1 370.6C230.6 371.5 230.9 372.6 231.4 373.7C231.9 374.8 232.2 376.2 232.7 377.1C233.2 378.0 233.5 378.5 234.0 379.1C234.5 379.7 234.8 380.0 235.3 380.4C235.8 380.8 236.2 380.9 236.7 381.1C237.2 381.3 237.7 381.5 238.2 381.5C238.7 381.5 238.9 381.1 239.3 381.0C239.7 380.9 240.0 380.8 240.4 380.9C240.8 381.0 241.1 381.5 241.5 381.7C241.9 381.9 241.8 382.0 242.6 382.2C243.4 382.4 244.9 382.4 245.9 382.6C246.9 382.8 247.3 383.2 248.1 383.5C248.9 383.8 249.6 384.1 250.3 384.2C251.0 384.3 251.4 384.1 252.0 383.9C252.6 383.7 252.9 383.5 253.6 383.1C254.3 382.8 255.0 382.3 255.8 381.9C256.6 381.5 257.2 381.2 258.0 380.9C258.8 380.6 259.4 380.4 260.2 380.2C261.0 380.0 261.4 379.9 262.4 379.8C263.4 379.7 264.9 379.7 265.7 379.8C266.5 379.9 266.4 380.1 266.8 380.4C267.2 380.7 267.5 380.9 267.9 381.5C268.3 382.1 268.7 382.8 269.2 383.8C269.7 384.8 270.0 385.6 270.5 387.0C271.0 388.4 271.4 390.0 271.9 391.7C272.4 393.4 272.8 394.8 273.3 396.9C273.8 399.0 274.4 401.2 275.0 403.5C275.6 405.8 276.0 407.8 276.6 410.1C277.2 412.4 277.7 414.5 278.3 416.8C278.9 419.1 279.4 421.4 279.9 423.3C280.4 425.2 280.6 426.3 281.0 427.8C281.4 429.3 281.8 430.8 282.1 432.0C282.5 433.2 282.7 433.8 283.0 434.6C283.3 435.4 283.6 435.9 283.9 436.4C284.2 436.9 284.5 437.1 284.9 437.3C285.2 437.5 285.6 437.6 285.9 437.5C286.2 437.4 286.5 437.2 286.8 436.8C287.1 436.4 287.3 436.0 287.6 435.3C287.9 434.6 288.3 433.7 288.7 432.8C289.1 431.9 289.4 431.0 289.8 429.9C290.2 428.8 290.7 427.8 291.2 426.6C291.7 425.4 292.1 424.4 292.5 423.3C292.9 422.2 293.2 421.5 293.6 420.5C294.0 419.5 294.2 418.7 294.6 417.8C295.0 416.9 295.4 415.8 295.7 415.6C296.0 415.4 296.1 417.0 296.4 416.7C296.7 416.4 297.0 414.9 297.3 414.0C297.6 413.1 297.8 412.6 298.2 411.8C298.6 411.0 299.2 410.1 299.7 409.6C300.2 409.1 300.5 409.0 300.8 409.0C301.1 409.0 301.3 409.4 301.5 409.7C301.7 410.0 301.7 410.6 302.1 410.7C302.5 410.8 303.1 410.5 303.6 410.5C304.1 410.5 304.1 410.5 305.2 410.5C306.2 410.5 308.1 410.6 309.6 410.7C311.1 410.8 312.8 411.0 314.0 411.2C315.2 411.4 315.7 411.5 316.2 411.8C316.7 412.1 316.7 412.3 316.9 412.8C317.1 413.3 317.3 413.8 317.5 414.5C317.7 415.2 318.0 415.9 318.2 416.7C318.4 417.5 318.7 418.5 318.8 418.9"/>
<path class="cv" stroke="#141414" d="M383.9 281.7C385.0 281.7 387.2 281.7 390.0 281.7C392.8 281.7 396.1 281.7 400.0 281.7C403.9 281.7 409.7 281.6 412.0 281.7C413.1 281.8 412.7 281.9 413.1 282.2C413.5 282.5 413.7 282.7 414.2 283.5C414.7 284.3 415.2 285.4 415.8 286.7C416.4 288.0 416.8 289.4 417.5 291.1C418.2 292.8 418.9 294.7 419.7 296.6C420.5 298.5 421.0 299.8 421.9 302.1C422.8 304.4 423.6 307.1 424.6 309.8C425.6 312.5 426.4 314.9 427.4 317.5C428.4 320.1 429.2 322.3 430.2 324.8C431.2 327.3 432.1 329.9 432.9 331.8C433.7 333.7 434.0 334.3 434.6 335.5C435.2 336.7 435.6 337.6 436.2 338.4C436.8 339.2 437.2 339.5 437.8 339.9C438.4 340.3 438.9 340.5 439.5 340.6C440.1 340.7 440.6 340.5 441.2 340.2C441.8 339.9 442.1 339.8 442.8 339.0C443.5 338.2 444.2 337.0 445.0 335.5C445.8 334.0 446.3 332.8 447.2 330.7C448.1 328.6 449.0 326.2 450.0 323.7C451.0 321.2 451.6 319.1 452.7 316.4C453.8 313.7 454.8 311.1 456.0 308.2C457.2 305.3 458.3 302.2 459.3 299.9C460.3 297.6 460.7 296.5 461.5 294.8C462.3 293.1 463.1 291.2 463.7 290.0C464.3 288.8 464.4 288.6 464.8 288.0C465.2 287.4 465.4 287.0 465.9 286.7C466.4 286.4 467.0 286.3 467.4 286.3C467.8 286.3 467.9 286.5 468.2 286.8C468.5 287.1 468.8 287.3 469.1 287.8C469.5 288.3 469.8 289.0 470.2 289.8C470.6 290.6 470.9 291.4 471.3 292.2C471.7 293.0 472.0 293.5 472.4 294.1C472.8 294.7 473.1 295.1 473.5 295.5C473.9 295.9 474.1 296.1 474.4 296.3C474.7 296.5 475.0 296.6 475.3 296.6C475.6 296.6 475.9 296.5 476.3 296.2C476.7 295.9 476.9 295.7 477.3 295.1C477.7 294.5 478.0 293.7 478.4 292.8C478.8 291.9 479.1 290.9 479.5 290.0C479.9 289.1 480.2 288.4 480.6 287.6C481.0 286.8 481.3 286.2 481.7 285.6C482.1 285.0 482.6 284.4 483.1 283.9C483.6 283.4 484.0 283.1 484.5 282.8C485.0 282.5 485.5 282.4 486.1 282.2C486.7 282.0 486.3 282.0 487.8 281.9C489.3 281.8 493.1 281.9 494.4 281.9C495.2 281.9 494.9 281.9 495.2 282.0C495.5 282.1 495.8 282.4 496.0 282.5C496.3 282.6 496.6 282.5 496.9 282.6C497.2 282.6 497.4 282.8 497.7 282.8C498.0 282.8 498.2 282.8 498.5 282.8C498.8 282.8 499.1 282.6 499.4 282.6C499.6 282.6 499.9 282.7 500.2 282.6C500.5 282.6 500.7 282.6 501.0 282.5C501.3 282.4 501.6 282.3 501.9 282.3C502.2 282.4 502.5 282.5 502.8 282.6C503.1 282.6 503.3 282.6 503.6 282.6C503.9 282.5 504.2 282.3 504.5 282.3C504.8 282.3 505.1 282.4 505.4 282.4C505.7 282.4 505.9 282.5 506.2 282.5C506.5 282.5 506.8 282.3 507.0 282.3C507.3 282.3 507.6 282.4 507.9 282.4C508.2 282.5 508.4 282.5 508.7 282.5C509.0 282.5 509.2 282.4 509.5 282.4C509.8 282.4 510.1 282.4 510.4 282.5C510.6 282.5 510.9 282.5 511.2 282.5C511.5 282.5 511.7 282.4 512.0 282.4C512.3 282.4 512.5 282.4 512.8 282.5C513.1 282.5 513.4 282.6 513.6 282.5C513.9 282.5 514.2 282.3 514.5 282.3C514.8 282.3 515.0 282.5 515.3 282.5C515.6 282.4 515.8 282.3 516.1 282.3C516.4 282.3 516.7 282.2 517.0 282.3C517.2 282.3 517.5 282.4 517.8 282.4C518.1 282.5 518.3 282.3 518.6 282.4C518.9 282.5 519.3 283.0 519.7 283.2C520.1 283.5 520.5 283.8 520.8 283.9C521.1 284.0 521.4 283.9 521.6 283.8C521.9 283.7 522.2 283.4 522.5 283.5C522.8 283.6 523.0 284.1 523.2 284.5C523.5 284.8 523.7 285.5 524.0 285.6C524.3 285.7 524.5 285.1 524.8 284.8C525.1 284.5 525.3 284.2 525.6 284.1C525.9 284.0 526.1 284.1 526.4 284.1C526.7 284.1 526.9 284.1 527.2 284.2C527.5 284.2 527.7 284.3 528.0 284.4C528.3 284.5 528.5 284.4 528.8 284.5C529.0 284.5 529.2 284.6 529.5 284.7C529.8 284.8 530.0 284.8 530.2 284.8C530.5 284.9 530.7 284.9 531.0 285.0C531.3 285.1 531.6 285.1 531.9 285.2C532.2 285.2 532.5 285.3 532.8 285.4C533.1 285.4 533.4 285.3 533.7 285.4C534.0 285.4 534.3 285.3 534.6 285.6C534.9 285.9 535.2 286.4 535.5 287.0C535.8 287.6 536.1 289.2 536.3 288.9C536.5 288.6 536.7 286.6 536.9 285.5C537.1 284.4 537.2 282.6 537.4 282.4C537.6 282.2 537.9 283.9 538.2 284.6C538.5 285.3 538.7 286.0 539.0 286.3C539.3 286.6 539.6 286.2 539.9 286.1C540.1 286.0 540.4 285.6 540.7 285.6C541.0 285.6 541.2 286.0 541.5 286.3C541.8 286.6 542.0 287.1 542.3 287.2C542.6 287.3 543.0 286.9 543.4 286.7C543.8 286.6 544.2 286.3 544.5 286.3C544.8 286.3 545.0 286.8 545.2 287.0C545.5 287.3 545.7 288.0 546.0 287.8C546.3 287.6 546.7 286.6 547.1 286.0C547.5 285.4 547.9 284.5 548.2 284.1C548.6 283.7 548.8 283.7 549.1 283.5C549.4 283.2 549.7 282.6 550.0 282.8C550.3 283.0 550.5 283.9 550.7 284.5C550.9 285.1 551.1 286.4 551.3 286.3C551.5 286.2 551.7 284.9 552.0 284.2C552.3 283.5 552.5 282.7 552.8 282.4C553.1 282.1 553.3 282.5 553.6 282.5C553.9 282.4 554.1 282.3 554.4 282.3C554.7 282.3 554.9 282.3 555.2 282.3C555.5 282.4 555.7 282.4 556.0 282.4C556.3 282.4 556.5 282.3 556.8 282.3C557.1 282.3 557.3 282.3 557.6 282.3C557.9 282.3 558.2 282.2 558.5 282.3C558.7 282.3 559.0 282.4 559.3 282.4C559.6 282.4 559.8 282.4 560.1 282.4C560.4 282.4 560.6 282.4 560.9 282.4C561.2 282.4 561.4 282.4 561.7 282.4C562.0 282.4 562.3 282.4 562.5 282.3C562.8 282.3 563.1 282.3 563.4 282.2C563.6 282.2 563.9 282.0 564.2 281.9C564.5 281.9 564.7 282.0 565.0 282.0C565.3 282.0 565.6 282.0 565.9 282.0C566.2 282.0 566.4 282.1 566.7 282.0C567.0 281.9 567.3 281.7 567.6 281.7C567.9 281.6 568.1 281.8 568.4 281.8C568.7 281.8 569.0 281.5 569.3 281.7C569.6 281.9 569.7 282.3 569.9 282.8C570.1 283.3 570.2 283.6 570.4 284.6C570.6 285.7 570.8 287.3 571.0 288.8C571.2 290.3 571.3 291.8 571.5 293.3C571.7 294.8 572.0 296.0 572.2 297.2C572.4 298.4 572.6 299.8 572.8 299.9C573.0 300.0 573.3 298.8 573.5 298.0C573.7 297.2 573.9 296.2 574.1 295.5C574.3 294.8 574.6 294.3 574.8 293.8C575.0 293.3 575.2 292.8 575.4 292.9C575.6 293.0 575.9 293.7 576.1 294.3C576.3 294.9 576.5 295.2 576.8 296.6C577.1 298.0 577.4 300.4 577.7 302.5C578.0 304.6 578.2 306.3 578.5 308.7C578.8 311.1 579.2 313.7 579.6 316.4C580.0 319.1 580.3 321.5 580.7 324.1C581.1 326.7 581.4 329.0 581.8 331.5C582.2 334.0 582.6 336.8 582.9 338.4C583.2 340.0 583.3 340.0 583.5 340.6C583.7 341.2 583.8 341.8 584.0 341.7C584.2 341.6 584.4 341.0 584.6 340.2C584.8 339.4 584.9 339.7 585.1 337.3C585.3 334.9 585.7 330.4 586.0 326.5C586.3 322.6 586.6 318.7 586.9 315.3C587.2 311.9 587.4 309.7 587.7 307.0C588.0 304.3 588.1 301.9 588.4 299.9C588.7 297.9 589.0 296.8 589.3 295.5C589.6 294.2 589.8 293.2 590.2 292.2C590.6 291.2 591.3 290.6 591.7 290.0C592.1 289.4 592.2 289.0 592.5 288.6C592.8 288.2 593.0 287.7 593.2 287.8C593.4 287.9 593.7 288.4 593.9 289.0C594.1 289.6 594.3 289.7 594.5 291.1C594.7 292.5 595.0 294.9 595.3 297.0C595.6 299.1 595.8 300.8 596.1 303.2C596.4 305.6 596.7 308.0 597.0 310.5C597.3 313.0 597.6 315.3 597.8 317.5C598.0 319.7 598.2 321.2 598.4 323.0C598.6 324.8 598.7 327.6 598.9 328.0C599.1 328.4 599.3 326.1 599.5 325.0C599.7 323.9 599.8 322.9 600.0 321.9C600.2 320.8 600.4 320.0 600.6 319.0C600.8 318.0 600.8 316.7 601.1 316.4C601.4 316.1 601.9 317.0 602.2 317.5C602.5 318.0 602.6 318.7 602.8 319.5C603.0 320.3 603.1 321.9 603.3 321.9C603.5 321.9 603.7 320.3 603.9 319.5C604.1 318.7 604.1 317.5 604.4 317.5C604.7 317.5 605.2 318.8 605.5 319.7C605.8 320.6 606.0 321.5 606.3 322.5C606.6 323.5 606.8 325.2 607.1 325.2C607.4 325.2 607.6 323.5 607.8 322.5C608.0 321.5 608.2 321.0 608.4 319.7C608.6 318.4 608.9 316.5 609.1 315.0C609.3 313.5 609.4 311.8 609.7 310.9C610.0 310.0 610.5 309.6 610.8 309.8C611.1 310.0 611.2 311.3 611.4 312.3C611.6 313.3 611.7 314.2 611.9 315.3C612.1 316.4 612.4 317.5 612.6 318.6C612.8 319.7 613.0 321.3 613.2 321.5C613.4 321.7 613.7 320.7 613.9 320.0C614.1 319.3 614.3 318.9 614.5 317.5C614.7 316.1 615.0 313.9 615.2 312.0C615.4 310.1 615.6 307.7 615.9 306.5C616.2 305.3 616.7 306.4 617.0 305.4C617.3 304.4 617.4 302.5 617.6 301.0C617.8 299.5 617.9 297.2 618.1 296.6C618.3 296.0 618.6 295.9 618.9 297.7C619.2 299.5 619.4 303.5 619.6 307.0C619.8 310.5 620.0 314.3 620.2 317.5C620.4 320.7 620.7 322.8 620.9 325.5C621.1 328.2 621.2 331.2 621.6 332.9C622.0 334.6 622.6 333.6 622.9 335.1C623.2 336.6 623.3 339.2 623.5 341.5C623.7 343.8 623.8 345.8 624.0 348.2C624.2 350.6 624.4 352.4 624.6 355.2C624.8 358.0 625.0 360.9 625.2 364.0C625.4 367.1 625.3 371.2 625.7 372.7C626.1 374.2 626.9 371.0 627.3 372.7C627.7 374.4 627.9 379.0 628.2 382.5C628.5 386.0 628.7 389.8 629.0 392.5C629.3 395.2 629.6 396.3 629.9 398.0C630.2 399.7 630.5 401.2 630.8 402.4C631.1 403.6 631.3 404.3 631.6 405.0C631.9 405.7 632.1 406.3 632.3 406.4C632.5 406.5 632.7 406.0 632.9 405.5C633.1 405.0 633.2 405.3 633.4 403.5C633.6 401.7 634.0 398.1 634.3 395.0C634.6 391.9 634.9 389.2 635.2 385.9C635.5 382.6 635.7 379.4 636.0 376.0C636.3 372.6 636.4 368.4 636.7 366.2C637.0 364.0 637.2 364.3 637.5 363.5C637.8 362.7 638.1 363.2 638.3 361.8C638.5 360.4 638.7 357.8 638.9 355.5C639.1 353.2 639.4 351.8 639.6 348.6C639.8 345.4 639.7 339.6 640.0 337.3C640.3 335.0 641.1 335.5 641.5 335.5C641.9 335.5 641.9 336.8 642.1 337.5C642.3 338.2 642.5 339.9 642.7 339.5C642.9 339.1 643.2 336.8 643.4 335.5C643.6 334.2 643.8 332.9 644.0 331.8C644.2 330.7 644.5 330.1 644.8 329.3C645.1 328.5 645.1 327.9 645.5 327.4C645.9 326.9 646.5 326.3 647.0 326.3C647.5 326.3 647.8 328.6 648.1 327.4C648.4 326.2 648.5 322.4 648.7 319.5C648.9 316.6 649.0 314.4 649.2 310.9C649.4 307.4 649.6 303.4 649.8 299.5C650.0 295.6 650.1 291.5 650.3 288.9C650.5 286.3 650.7 285.7 650.9 284.5C651.1 283.3 651.1 282.1 651.4 281.9C651.7 281.7 652.2 282.3 652.5 283.5C652.8 284.7 653.0 286.9 653.2 289.0C653.4 291.1 653.6 293.3 653.9 295.5C654.2 297.7 654.5 299.6 654.8 301.7C655.1 303.8 655.4 305.4 655.8 307.6C656.2 309.8 656.8 311.9 657.3 314.0C657.8 316.1 658.3 318.1 658.7 319.7C659.1 321.3 659.4 322.0 659.8 323.2C660.2 324.4 660.4 325.1 660.9 326.3C661.4 327.5 662.0 329.9 662.4 330.2C662.8 330.5 662.8 329.1 663.0 328.0C663.2 326.9 663.5 326.9 663.7 324.1C663.9 321.3 664.0 316.2 664.2 312.0C664.4 307.8 664.5 303.8 664.6 299.9C664.7 296.0 664.9 293.1 665.0 290.0C665.1 286.9 665.2 281.5 665.3 281.9C665.4 282.2 665.5 288.5 665.6 292.0C665.7 295.5 665.8 300.9 665.9 302.1C666.0 303.3 666.2 300.2 666.4 299.0C666.6 297.8 666.6 297.4 666.8 295.5C667.0 293.6 667.1 290.4 667.3 288.0C667.5 285.6 667.6 283.0 667.7 281.9"/>
<path d="M573.6 175.6V169.7" stroke="#111" stroke-width="0.9" fill="none"/>
<path d="M573.6 166.7l-1.75 4.9h3.5z" fill="#111"/>
<path d="M586.0 181.0V175.3" stroke="#111" stroke-width="0.9" fill="none"/>
<path d="M586.0 172.3l-1.75 4.9h3.5z" fill="#111"/>
<g filter="url(#gs)">
<text class="tk" x="36.5" y="217.3">4000</text>
<text class="tk" x="76.7" y="217.3">3500</text>
<text class="tk" x="119.5" y="217.3">3000</text>
<text class="tk" x="159.9" y="217.3">2500</text>
<text class="tk" x="199.4" y="217.3">2000</text>
<text class="tk" x="243.6" y="217.3">1500</text>
<text class="tk" x="284.7" y="217.3">1000</text>
<text class="tk" x="327.5" y="217.3">500</text>
<text class="ax" x="103.7" y="236.5">Wave number (cm<tspan class="sup" dx="-4.0" dy="-9.3">-</tspan><tspan class="sup" dx="0.4">1</tspan><tspan dx="0.4" dy="9.3">)</tspan></text>
<text class="ay" transform="translate(16.7 197.8) rotate(-90)" textLength="167.9" lengthAdjust="spacingAndGlyphs">Transmittance (T%)</text>
<text class="tag" x="-0.9" y="15.8">(a)</text>
<text class="tk" x="382.7" y="217.6">4000</text>
<text class="tk" x="423.5" y="217.6">3500</text>
<text class="tk" x="467.4" y="217.6">3000</text>
<text class="tk" x="506.6" y="217.6">2500</text>
<text class="tk" x="546.8" y="217.6">2000</text>
<text class="tk" x="590.7" y="217.6">1500</text>
<text class="tk" x="631.3" y="217.6">1000</text>
<text class="tk" x="674.8" y="217.6">500</text>
<text class="ax" x="453.7" y="236.6">Wave number (cm<tspan class="sup" dx="-4.0" dy="-9.3">-</tspan><tspan class="sup" dx="0.4">1</tspan><tspan dx="0.4" dy="9.3">)</tspan></text>
<text class="ay" transform="translate(367.4 197.8) rotate(-90)" textLength="167.2" lengthAdjust="spacingAndGlyphs">Transmittance (T%)</text>
<text class="tag" x="346.5" y="17.6">(b)</text>
<text class="tk" x="35.2" y="464.6">4000</text>
<text class="tk" x="76.1" y="464.6">3500</text>
<text class="tk" x="119.8" y="464.6">3000</text>
<text class="tk" x="159.7" y="464.6">2500</text>
<text class="tk" x="199.3" y="464.6">2000</text>
<text class="tk" x="242.9" y="464.6">1500</text>
<text class="tk" x="283.8" y="464.6">1000</text>
<text class="tk" x="327.8" y="464.6">500</text>
<text class="ax" x="103.8" y="482.2">Wave number (cm<tspan class="sup2" dx="-4.0" dy="-9.3">-</tspan><tspan class="sup2" dx="1.0">1</tspan><tspan dx="0.5" dy="9.3">)</tspan></text>
<text class="ay" transform="translate(17.5 440.0) rotate(-90)" textLength="166.2" lengthAdjust="spacingAndGlyphs">Transmittance (T%)</text>
<text class="tag" x="-0.9" y="261.0">(c)</text>
<text class="tk" x="382.5" y="464.8">4000</text>
<text class="tk" x="423.2" y="464.8">3500</text>
<text class="tk" x="466.9" y="464.8">3000</text>
<text class="tk" x="506.6" y="464.8">2500</text>
<text class="tk" x="546.6" y="464.8">2000</text>
<text class="tk" x="590.1" y="464.8">1500</text>
<text class="tk" x="631.1" y="464.8">1000</text>
<text class="tk" x="674.7" y="464.8">500</text>
<text class="ax" x="453.7" y="482.4">Wave number (cm<tspan class="sup2" dx="-4.0" dy="-9.3">-</tspan><tspan class="sup2" dx="1.0">1</tspan><tspan dx="0.5" dy="9.3">)</tspan></text>
<text class="ay" transform="translate(367.4 439.6) rotate(-90)" textLength="167.4" lengthAdjust="spacingAndGlyphs">Transmittance (T%)</text>
<text class="tag" x="346.7" y="260.9">(d)</text>
<text class="nm" x="40.3" y="51.4">CO</text>
<text class="nm" x="40.3" y="143.9">CL</text>
<text class="nm" x="393.2" y="57.8">ZO</text>
<text class="nm" x="395.8" y="157.7">ZL</text>
<text class="nm" x="40.3" y="308.1">FO</text>
<text class="nm" x="40.3" y="384.9">FL</text>
<text class="nm" x="391.0" y="303.8">LO</text>
<text class="pk" transform="translate(94.6 73.5) rotate(-90)" textLength="15.8" lengthAdjust="spacingAndGlyphs">3345</text>
<text class="pk" transform="translate(132.0 63.6) rotate(-90)" textLength="15.8" lengthAdjust="spacingAndGlyphs">2884</text>
<text class="pk" transform="translate(226.2 63.6) rotate(-90)" textLength="15.8" lengthAdjust="spacingAndGlyphs">1737</text>
<text class="pk" transform="translate(239.1 64.1) rotate(-90)" textLength="15.8" lengthAdjust="spacingAndGlyphs">1586</text>
<text class="pk" transform="translate(269.9 88.2) rotate(-90)" textLength="15.8" lengthAdjust="spacingAndGlyphs">1229</text>
<text class="pk" transform="translate(228.2 149.1) rotate(-90)" textLength="15.8" lengthAdjust="spacingAndGlyphs">1696</text>
<text class="pk" transform="translate(241.8 163.5) rotate(-90)" textLength="15.8" lengthAdjust="spacingAndGlyphs">1572</text>
<text class="pk" transform="translate(272.1 170.1) rotate(-90)" textLength="15.8" lengthAdjust="spacingAndGlyphs">1235</text>
<text class="pk" transform="translate(287.5 150.9) rotate(-90)" textLength="15.8" lengthAdjust="spacingAndGlyphs">1029</text>
<text class="pk" transform="translate(440.7 94.8) rotate(-90)" textLength="15.8" lengthAdjust="spacingAndGlyphs">3337</text>
<text class="pk" transform="translate(479.8 76.8) rotate(-90)" textLength="15.8" lengthAdjust="spacingAndGlyphs">2912</text>
<text class="pk" transform="translate(574.6 69.1) rotate(-90)" textLength="15.8" lengthAdjust="spacingAndGlyphs">1723</text>
<text class="pk" transform="translate(586.7 79.6) rotate(-90)" textLength="15.8" lengthAdjust="spacingAndGlyphs">1606</text>
<text class="pk" transform="translate(615.3 100.9) rotate(-90)" textLength="15.8" lengthAdjust="spacingAndGlyphs">1242</text>
<text class="pk" transform="translate(633.3 175.4) rotate(-90)" textLength="15.8" lengthAdjust="spacingAndGlyphs">1029</text>
<text class="pk" transform="translate(576.8 195.8) rotate(-90)" textLength="15.8" lengthAdjust="spacingAndGlyphs">1723</text>
<text class="pk" transform="translate(590.9 199.8) rotate(-90)" textLength="15.8" lengthAdjust="spacingAndGlyphs">1544</text>
<text class="pk" transform="translate(92.7 358.9) rotate(-90)" textLength="15.8" lengthAdjust="spacingAndGlyphs">3303</text>
<text class="pk" transform="translate(236.9 370.4) rotate(-90)" textLength="15.8" lengthAdjust="spacingAndGlyphs">1640</text>
<text class="pk" transform="translate(245.9 359.3) rotate(-90)" textLength="15.8" lengthAdjust="spacingAndGlyphs">1544</text>
<text class="pk" transform="translate(256.7 360.4) rotate(-90)" textLength="15.8" lengthAdjust="spacingAndGlyphs">1421</text>
<text class="pk" transform="translate(238.7 403.7) rotate(-90)" textLength="15.8" lengthAdjust="spacingAndGlyphs">1585</text>
<text class="pk" transform="translate(253.4 404.4) rotate(-90)" textLength="15.8" lengthAdjust="spacingAndGlyphs">1421</text>
<text class="pk" transform="translate(288.1 423.7) rotate(-90)" textLength="15.8" lengthAdjust="spacingAndGlyphs">1008</text>
<text class="pk" transform="translate(443.3 361.9) rotate(-90)" textLength="15.8" lengthAdjust="spacingAndGlyphs">3331</text>
<text class="pk" transform="translate(477.3 317.3) rotate(-90)" textLength="15.8" lengthAdjust="spacingAndGlyphs">2891</text>
<text class="pk" transform="translate(574.6 322.1) rotate(-90)" textLength="15.8" lengthAdjust="spacingAndGlyphs">1737</text>
<text class="pk" transform="translate(587.1 361.9) rotate(-90)" textLength="15.8" lengthAdjust="spacingAndGlyphs">1599</text>
<text class="pk" transform="translate(601.4 348.0) rotate(-90)" textLength="15.8" lengthAdjust="spacingAndGlyphs">1421</text>
<text class="pk" transform="translate(617.4 346.9) rotate(-90)" textLength="15.8" lengthAdjust="spacingAndGlyphs">1235</text>
<text class="pk" transform="translate(666.9 346.9) rotate(-90)" textLength="11.9" lengthAdjust="spacingAndGlyphs">658</text>
<text class="pk" transform="translate(636.1 427.5) rotate(-90)" textLength="15.8" lengthAdjust="spacingAndGlyphs">1022</text>
</g>
<rect x="0" y="206.8" width="28.35" height="14" fill="#ffffff"/>
</svg>
</body>
</html>
